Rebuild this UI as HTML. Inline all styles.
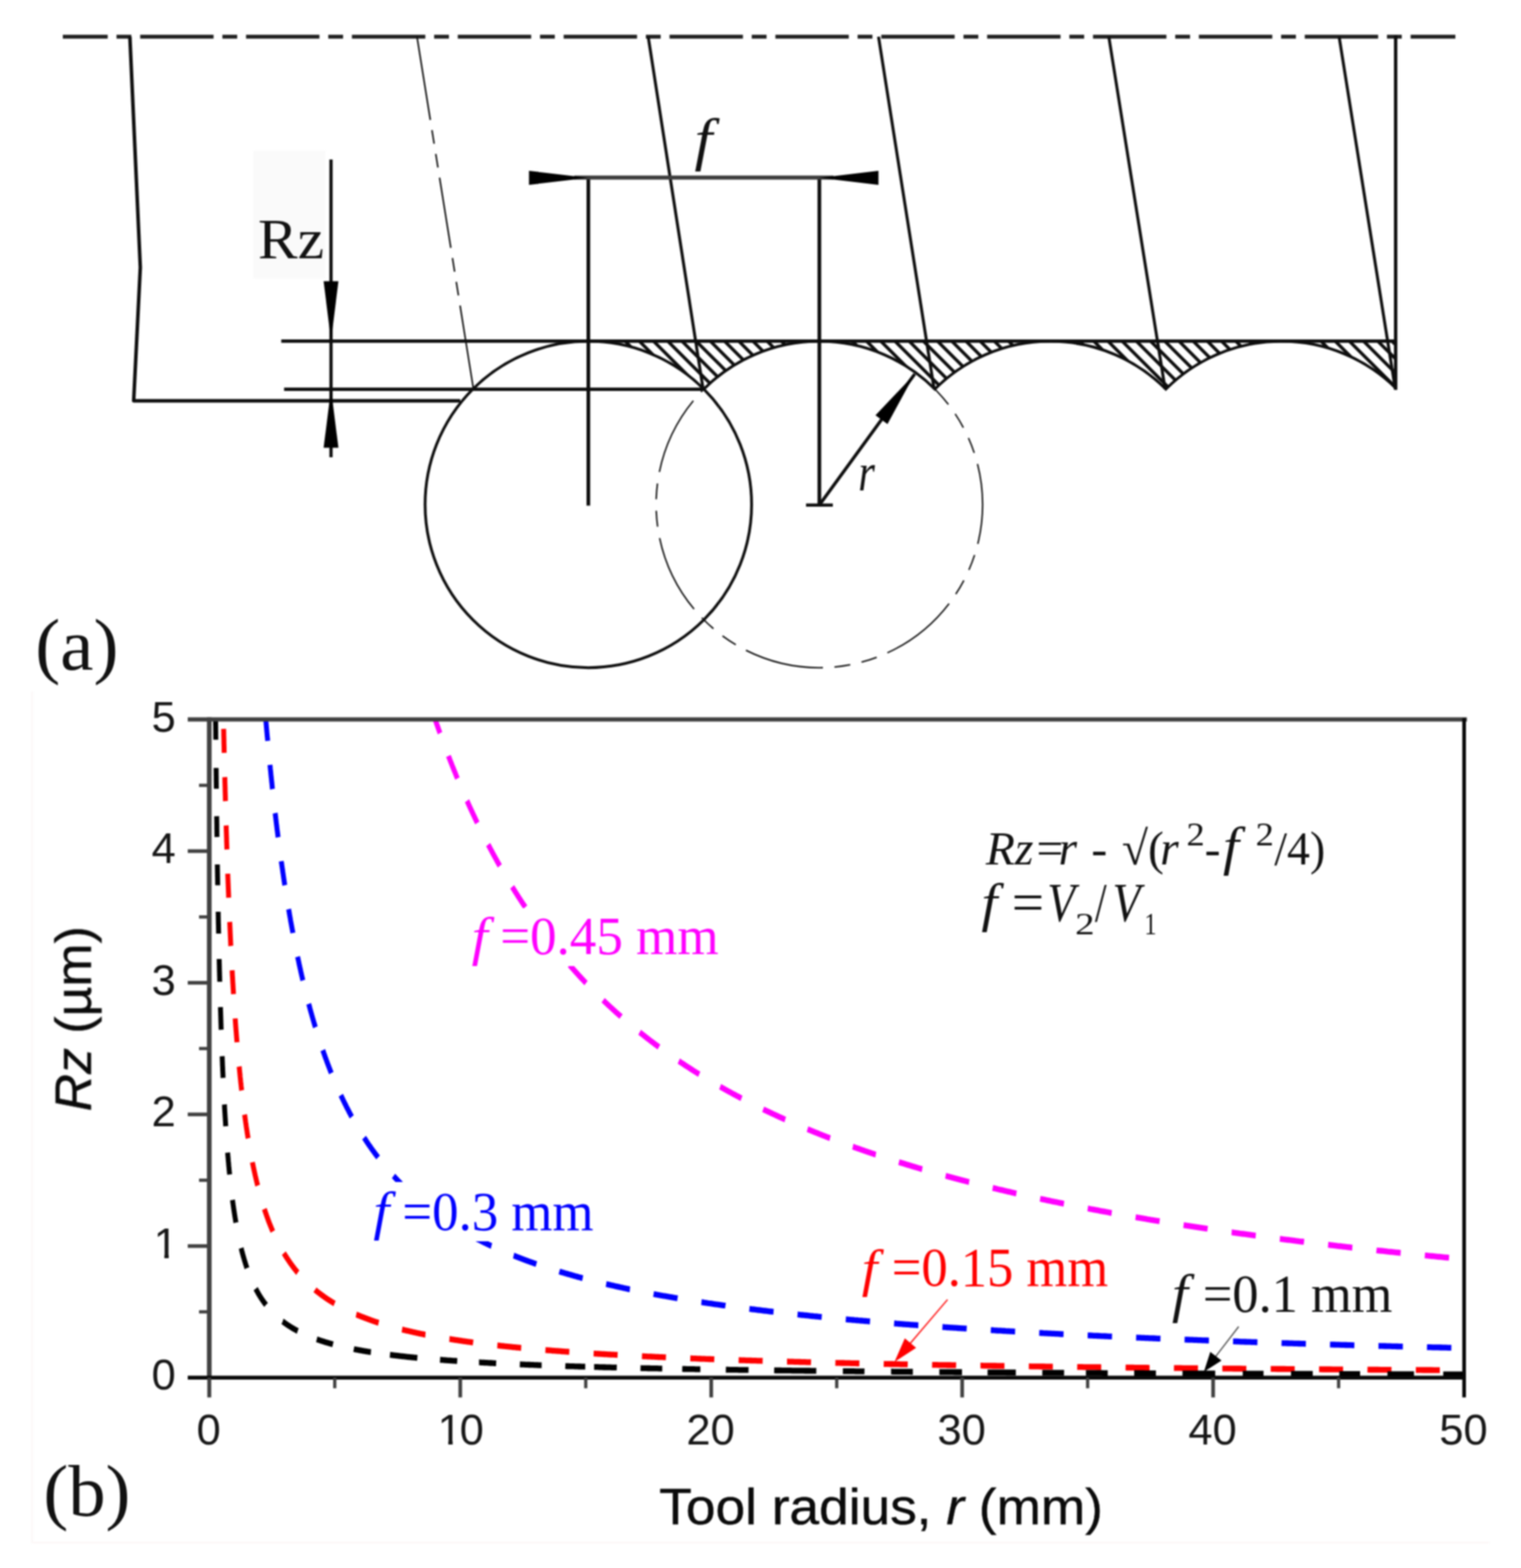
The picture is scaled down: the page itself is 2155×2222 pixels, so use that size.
<!DOCTYPE html>
<html lang="en"><head><meta charset="utf-8"><title>Surface roughness Rz versus tool radius</title>
<style>
html,body{margin:0;padding:0;background:#fff;}
body{width:2155px;height:2222px;overflow:hidden;font-family:"Liberation Sans",sans-serif;}
svg{display:block;}
text{white-space:pre;}
</style></head><body>
<svg width="2155" height="2222" viewBox="0 0 2155 2222">
<rect width="2155" height="2222" fill="#fff"/>
<g style="filter:blur(1.0px)">
<path d="M45.5,980 V2186 H2110.5" fill="none" stroke="#fcf6f6" stroke-width="2"/>
<defs><clipPath id="pc"><rect x="296.5" y="1019.6" width="1780.9" height="935.7"/></clipPath></defs>
<g fill="none" clip-path="url(#pc)">
<path transform="scale(0.84,1)" d="M712.5,963.6 L712.9,964.8 L713.4,966.0 L713.8,967.1 L714.2,968.3 L714.6,969.5 L715.1,970.6 L715.5,971.8 L715.9,972.9 L716.3,974.1 L716.8,975.3 L717.2,976.4 L717.6,977.6 L718.1,978.7 L718.5,979.9 L718.9,981.0 L719.4,982.2 L719.8,983.3 L720.2,984.5 L720.7,985.6 L721.1,986.7 L721.5,987.9 L722.0,989.0 L722.4,990.2 L722.8,991.3 L723.3,992.4 L723.7,993.6 L724.2,994.7 L724.6,995.8 L725.0,997.0 L725.5,998.1 L725.9,999.2 L726.4,1000.4 L726.8,1001.5 L727.2,1002.6 L727.7,1003.7 L728.1,1004.8 L728.6,1006.0 L729.0,1007.1 L729.5,1008.2 L729.9,1009.3 L730.4,1010.4 L730.8,1011.5 L731.2,1012.7 L731.7,1013.8 L732.1,1014.9 L732.6,1016.0 L733.0,1017.1 L733.5,1018.2 L733.9,1019.3 L734.4,1020.4 L734.8,1021.5 L735.3,1022.6 L735.7,1023.7 L736.2,1024.8 L736.6,1025.9 L737.1,1027.0 L737.6,1028.1 L738.0,1029.2 L738.5,1030.3 L738.9,1031.4 L739.4,1032.4 L739.8,1033.5 L740.3,1034.6 L740.8,1035.7 L741.2,1036.8 L741.7,1037.9 L742.1,1038.9 L742.6,1040.0 L743.0,1041.1 L743.5,1042.2 L744.0,1043.3 L744.4,1044.3 L744.9,1045.4 L745.4,1046.5 L745.8,1047.5 L746.3,1048.6 L746.8,1049.7 L747.2,1050.7 L747.7,1051.8 L748.2,1052.9 L748.6,1053.9 L749.1,1055.0 L749.6,1056.1 L750.0,1057.1 L750.5,1058.2 L751.0,1059.2 L751.4,1060.3 L751.9,1061.3 L752.4,1062.4 L752.9,1063.5 L753.3,1064.5 L753.8,1065.6 L754.3,1066.6 L754.7,1067.6 L755.2,1068.7 L755.7,1069.7 L756.2,1070.8 L756.6,1071.8 L757.1,1072.9 L757.6,1073.9 L758.1,1074.9 L758.6,1076.0 L759.0,1077.0 L759.5,1078.0 L760.0,1079.1 L760.5,1080.1 L761.0,1081.1 L761.4,1082.2 L761.9,1083.2 L762.4,1084.2 L762.9,1085.3 L763.4,1086.3 L763.9,1087.3 L764.4,1088.3 L764.8,1089.3 L765.3,1090.4 L765.8,1091.4 L766.3,1092.4 L766.8,1093.4 L767.3,1094.4 L767.8,1095.4 L768.3,1096.5 L768.8,1097.5 L769.2,1098.5 L769.7,1099.5 L770.2,1100.5 L770.7,1101.5 L771.2,1102.5 L771.7,1103.5 L772.2,1104.5 L772.7,1105.5 L773.2,1106.5 L773.7,1107.5 L774.2,1108.5 L774.7,1109.5 L775.2,1110.5 L775.7,1111.5 L776.2,1112.5 L776.7,1113.5 L777.2,1114.5 L777.7,1115.5 L778.2,1116.5 L778.7,1117.4 L779.2,1118.4 L779.7,1119.4 L780.2,1120.4 L780.7,1121.4 L781.2,1122.4 L781.7,1123.3 L782.2,1124.3 L782.7,1125.3 L783.3,1126.3 L783.8,1127.3 L784.3,1128.2 L784.8,1129.2 L785.3,1130.2 L785.8,1131.1 L786.3,1132.1 L786.8,1133.1 L787.3,1134.1 L787.9,1135.0 L788.4,1136.0 L788.9,1137.0 L789.4,1137.9 L789.9,1138.9 L790.4,1139.8 L790.9,1140.8 L791.5,1141.8 L792.0,1142.7 L792.5,1143.7 L793.0,1144.6 L793.5,1145.6 L794.1,1146.5 L794.6,1147.5 L795.1,1148.4 L795.6,1149.4 L796.2,1150.3 L796.7,1151.3 L797.2,1152.2 L797.7,1153.2 L798.3,1154.1 L798.8,1155.1 L799.3,1156.0 L799.8,1156.9 L800.4,1157.9 L800.9,1158.8 L801.4,1159.8 L802.0,1160.7 L802.5,1161.6 L803.0,1162.6 L803.5,1163.5 L804.1,1164.4 L804.6,1165.4 L805.1,1166.3 L805.7,1167.2 L806.2,1168.2 L806.8,1169.1 L807.3,1170.0 L807.8,1170.9 L808.4,1171.9 L808.9,1172.8 L809.4,1173.7 L810.0,1174.6 L810.5,1175.5 L811.1,1176.5 L811.6,1177.4 L812.1,1178.3 L812.7,1179.2 L813.2,1180.1 L813.8,1181.0 L814.3,1181.9 L814.9,1182.8 L815.4,1183.8 L816.0,1184.7 L816.5,1185.6 L817.1,1186.5 L817.6,1187.4 L818.2,1188.3 L818.7,1189.2 L819.3,1190.1 L819.8,1191.0 L820.4,1191.9 L820.9,1192.8 L821.5,1193.7 L822.0,1194.6 L822.6,1195.5 L823.1,1196.4 L823.7,1197.3 L824.2,1198.2 L824.8,1199.0 L825.4,1199.9 L825.9,1200.8 L826.5,1201.7 L827.0,1202.6 L827.6,1203.5 L828.2,1204.4 L828.7,1205.3 L829.3,1206.1 L829.8,1207.0 L830.4,1207.9 L831.0,1208.8 L831.5,1209.7 L832.1,1210.5 L832.7,1211.4 L833.2,1212.3 L833.8,1213.2 L834.4,1214.0 L834.9,1214.9 L835.5,1215.8 L836.1,1216.7 L836.7,1217.5 L837.2,1218.4 L837.8,1219.3 L838.4,1220.1 L838.9,1221.0 L839.5,1221.9 L840.1,1222.7 L840.7,1223.6 L841.3,1224.4 L841.8,1225.3 L842.4,1226.2 L843.0,1227.0 L843.6,1227.9 L844.1,1228.7 L844.7,1229.6 L845.3,1230.4 L845.9,1231.3 L846.5,1232.1 L847.1,1233.0 L847.6,1233.8 L848.2,1234.7 L848.8,1235.5 L849.4,1236.4 L850.0,1237.2 L850.6,1238.1 L851.2,1238.9 L851.8,1239.8 L852.3,1240.6 L852.9,1241.4 L853.5,1242.3 L854.1,1243.1 L854.7,1244.0 L855.3,1244.8 L855.9,1245.6 L856.5,1246.5 L857.1,1247.3 L857.7,1248.1 L858.3,1249.0 L858.9,1249.8 L859.5,1250.6 L860.1,1251.5 L860.7,1252.3 L861.3,1253.1 L861.9,1253.9 L862.5,1254.8 L863.1,1255.6 L863.7,1256.4 L864.3,1257.2 L864.9,1258.1 L865.5,1258.9 L866.1,1259.7 L866.7,1260.5 L867.3,1261.3 L867.9,1262.1 L868.5,1263.0 L869.1,1263.8 L869.8,1264.6 L870.4,1265.4 L871.0,1266.2 L871.6,1267.0 L872.2,1267.8 L872.8,1268.6 L873.4,1269.5 L874.0,1270.3 L874.7,1271.1 L875.3,1271.9 L875.9,1272.7 L876.5,1273.5 L877.1,1274.3 L877.8,1275.1 L878.4,1275.9 L879.0,1276.7 L879.6,1277.5 L880.2,1278.3 L880.9,1279.1 L881.5,1279.9 L882.1,1280.7 L882.7,1281.5 L883.4,1282.2 L884.0,1283.0 L884.6,1283.8 L885.2,1284.6 L885.9,1285.4 L886.5,1286.2 L887.1,1287.0 L887.8,1287.8 L888.4,1288.6 L889.0,1289.3 L889.7,1290.1 L890.3,1290.9 L890.9,1291.7 L891.6,1292.5 L892.2,1293.2 L892.9,1294.0 L893.5,1294.8 L894.1,1295.6 L894.8,1296.4 L895.4,1297.1 L896.1,1297.9 L896.7,1298.7 L897.3,1299.4 L898.0,1300.2 L898.6,1301.0 L899.3,1301.8 L899.9,1302.5 L900.6,1303.3 L901.2,1304.1 L901.9,1304.8 L902.5,1305.6 L903.2,1306.4 L903.8,1307.1 L904.5,1307.9 L905.1,1308.6 L905.8,1309.4 L906.4,1310.2 L907.1,1310.9 L907.7,1311.7 L908.4,1312.4 L909.0,1313.2 L909.7,1313.9 L910.4,1314.7 L911.0,1315.5 L911.7,1316.2 L912.3,1317.0 L913.0,1317.7 L913.7,1318.5 L914.3,1319.2 L915.0,1320.0 L915.7,1320.7 L916.3,1321.4 L917.0,1322.2 L917.6,1322.9 L918.3,1323.7 L919.0,1324.4 L919.7,1325.2 L920.3,1325.9 L921.0,1326.6 L921.7,1327.4 L922.3,1328.1 L923.0,1328.9 L923.7,1329.6 L924.4,1330.3 L925.0,1331.1 L925.7,1331.8 L926.4,1332.5 L927.1,1333.3 L927.7,1334.0 L928.4,1334.7 L929.1,1335.5 L929.8,1336.2 L930.5,1336.9 L931.2,1337.6 L931.8,1338.4 L932.5,1339.1 L933.2,1339.8 L933.9,1340.5 L934.6,1341.3 L935.3,1342.0 L936.0,1342.7 L936.6,1343.4 L937.3,1344.1 L938.0,1344.9 L938.7,1345.6 L939.4,1346.3 L940.1,1347.0 L940.8,1347.7 L941.5,1348.4 L942.2,1349.2 L942.9,1349.9 L943.6,1350.6 L944.3,1351.3 L945.0,1352.0 L945.7,1352.7 L946.4,1353.4 L947.1,1354.1 L947.8,1354.8 L948.5,1355.5 L949.2,1356.2 L949.9,1357.0 L950.6,1357.7 L951.3,1358.4 L952.0,1359.1 L952.7,1359.8 L953.4,1360.5 L954.2,1361.2 L954.9,1361.9 L955.6,1362.6 L956.3,1363.3 L957.0,1363.9 L957.7,1364.6 L958.4,1365.3 L959.1,1366.0 L959.9,1366.7 L960.6,1367.4 L961.3,1368.1 L962.0,1368.8 L962.7,1369.5 L963.5,1370.2 L964.2,1370.9 L964.9,1371.5 L965.6,1372.2 L966.4,1372.9 L967.1,1373.6 L967.8,1374.3 L968.5,1375.0 L969.3,1375.7 L970.0,1376.3 L970.7,1377.0 L971.4,1377.7 L972.2,1378.4 L972.9,1379.1 L973.6,1379.7 L974.4,1380.4 L975.1,1381.1 L975.8,1381.8 L976.6,1382.4 L977.3,1383.1 L978.1,1383.8 L978.8,1384.4 L979.5,1385.1 L980.3,1385.8 L981.0,1386.5 L981.8,1387.1 L982.5,1387.8 L983.3,1388.5 L984.0,1389.1 L984.7,1389.8 L985.5,1390.5 L986.2,1391.1 L987.0,1391.8 L987.7,1392.4 L988.5,1393.1 L989.2,1393.8 L990.0,1394.4 L990.7,1395.1 L991.5,1395.7 L992.3,1396.4 L993.0,1397.1 L993.8,1397.7 L994.5,1398.4 L995.3,1399.0 L996.0,1399.7 L996.8,1400.3 L997.6,1401.0 L998.3,1401.6 L999.1,1402.3 L999.9,1402.9 L1000.6,1403.6 L1001.4,1404.2 L1002.2,1404.9 L1002.9,1405.5 L1003.7,1406.2 L1004.5,1406.8 L1005.2,1407.5 L1006.0,1408.1 L1006.8,1408.7 L1007.5,1409.4 L1008.3,1410.0 L1009.1,1410.7 L1009.9,1411.3 L1010.6,1412.0 L1011.4,1412.6 L1012.2,1413.2 L1013.0,1413.9 L1013.8,1414.5 L1014.5,1415.1 L1015.3,1415.8 L1016.1,1416.4 L1016.9,1417.0 L1017.7,1417.7 L1018.5,1418.3 L1019.3,1418.9 L1020.0,1419.6 L1020.8,1420.2 L1021.6,1420.8 L1022.4,1421.4 L1023.2,1422.1 L1024.0,1422.7 L1024.8,1423.3 L1025.6,1424.0 L1026.4,1424.6 L1027.2,1425.2 L1028.0,1425.8 L1028.8,1426.4 L1029.6,1427.1 L1030.4,1427.7 L1031.2,1428.3 L1032.0,1428.9 L1032.8,1429.5 L1033.6,1430.2 L1034.4,1430.8 L1035.2,1431.4 L1036.0,1432.0 L1036.8,1432.6 L1037.6,1433.2 L1038.4,1433.9 L1039.2,1434.5 L1040.0,1435.1 L1040.9,1435.7 L1041.7,1436.3 L1042.5,1436.9 L1043.3,1437.5 L1044.1,1438.1 L1044.9,1438.7 L1045.8,1439.3 L1046.6,1439.9 L1047.4,1440.5 L1048.2,1441.2 L1049.0,1441.8 L1049.9,1442.4 L1050.7,1443.0 L1051.5,1443.6 L1052.3,1444.2 L1053.2,1444.8 L1054.0,1445.4 L1054.8,1446.0 L1055.6,1446.6 L1056.5,1447.2 L1057.3,1447.8 L1058.1,1448.4 L1059.0,1448.9 L1059.8,1449.5 L1060.6,1450.1 L1061.5,1450.7 L1062.3,1451.3 L1063.2,1451.9 L1064.0,1452.5 L1064.8,1453.1 L1065.7,1453.7 L1066.5,1454.3 L1067.4,1454.9 L1068.2,1455.4 L1069.1,1456.0 L1069.9,1456.6 L1070.8,1457.2 L1071.6,1457.8 L1072.5,1458.4 L1073.3,1459.0 L1074.2,1459.5 L1075.0,1460.1 L1075.9,1460.7 L1076.7,1461.3 L1077.6,1461.9 L1078.4,1462.4 L1079.3,1463.0 L1080.1,1463.6 L1081.0,1464.2 L1081.9,1464.8 L1082.7,1465.3 L1083.6,1465.9 L1084.5,1466.5 L1085.3,1467.1 L1086.2,1467.6 L1087.1,1468.2 L1087.9,1468.8 L1088.8,1469.3 L1089.7,1469.9 L1090.5,1470.5 L1091.4,1471.1 L1092.3,1471.6 L1093.2,1472.2 L1094.0,1472.8 L1094.9,1473.3 L1095.8,1473.9 L1096.7,1474.5 L1097.5,1475.0 L1098.4,1475.6 L1099.3,1476.1 L1100.2,1476.7 L1101.1,1477.3 L1102.0,1477.8 L1102.8,1478.4 L1103.7,1479.0 L1104.6,1479.5 L1105.5,1480.1 L1106.4,1480.6 L1107.3,1481.2 L1108.2,1481.7 L1109.1,1482.3 L1110.0,1482.9 L1110.9,1483.4 L1111.8,1484.0 L1112.6,1484.5 L1113.5,1485.1 L1114.4,1485.6 L1115.3,1486.2 L1116.2,1486.7 L1117.2,1487.3 L1118.1,1487.8 L1119.0,1488.4 L1119.9,1488.9 L1120.8,1489.5 L1121.7,1490.0 L1122.6,1490.6 L1123.5,1491.1 L1124.4,1491.6 L1125.3,1492.2 L1126.2,1492.7 L1127.2,1493.3 L1128.1,1493.8 L1129.0,1494.4 L1129.9,1494.9 L1130.8,1495.4 L1131.7,1496.0 L1132.7,1496.5 L1133.6,1497.1 L1134.5,1497.6 L1135.4,1498.1 L1136.4,1498.7 L1137.3,1499.2 L1138.2,1499.7 L1139.1,1500.3 L1140.1,1500.8 L1141.0,1501.3 L1141.9,1501.9 L1142.9,1502.4 L1143.8,1502.9 L1144.7,1503.5 L1145.7,1504.0 L1146.6,1504.5 L1147.5,1505.1 L1148.5,1505.6 L1149.4,1506.1 L1150.4,1506.6 L1151.3,1507.2 L1152.3,1507.7 L1153.2,1508.2 L1154.1,1508.7 L1155.1,1509.3 L1156.0,1509.8 L1157.0,1510.3 L1157.9,1510.8 L1158.9,1511.4 L1159.8,1511.9 L1160.8,1512.4 L1161.8,1512.9 L1162.7,1513.4 L1163.7,1514.0 L1164.6,1514.5 L1165.6,1515.0 L1166.5,1515.5 L1167.5,1516.0 L1168.5,1516.5 L1169.4,1517.1 L1170.4,1517.6 L1171.4,1518.1 L1172.3,1518.6 L1173.3,1519.1 L1174.3,1519.6 L1175.2,1520.1 L1176.2,1520.6 L1177.2,1521.2 L1178.2,1521.7 L1179.1,1522.2 L1180.1,1522.7 L1181.1,1523.2 L1182.1,1523.7 L1183.1,1524.2 L1184.0,1524.7 L1185.0,1525.2 L1186.0,1525.7 L1187.0,1526.2 L1188.0,1526.7 L1189.0,1527.2 L1190.0,1527.7 L1190.9,1528.2 L1191.9,1528.7 L1192.9,1529.2 L1193.9,1529.7 L1194.9,1530.2 L1195.9,1530.7 L1196.9,1531.2 L1197.9,1531.7 L1198.9,1532.2 L1199.9,1532.7 L1200.9,1533.2 L1201.9,1533.7 L1202.9,1534.2 L1203.9,1534.7 L1204.9,1535.2 L1205.9,1535.7 L1206.9,1536.2 L1208.0,1536.7 L1209.0,1537.2 L1210.0,1537.6 L1211.0,1538.1 L1212.0,1538.6 L1213.0,1539.1 L1214.0,1539.6 L1215.1,1540.1 L1216.1,1540.6 L1217.1,1541.1 L1218.1,1541.5 L1219.1,1542.0 L1220.2,1542.5 L1221.2,1543.0 L1222.2,1543.5 L1223.2,1544.0 L1224.3,1544.5 L1225.3,1544.9 L1226.3,1545.4 L1227.4,1545.9 L1228.4,1546.4 L1229.4,1546.9 L1230.5,1547.3 L1231.5,1547.8 L1232.5,1548.3 L1233.6,1548.8 L1234.6,1549.2 L1235.7,1549.7 L1236.7,1550.2 L1237.8,1550.7 L1238.8,1551.1 L1239.9,1551.6 L1240.9,1552.1 L1242.0,1552.6 L1243.0,1553.0 L1244.1,1553.5 L1245.1,1554.0 L1246.2,1554.4 L1247.2,1554.9 L1248.3,1555.4 L1249.3,1555.9 L1250.4,1556.3 L1251.5,1556.8 L1252.5,1557.3 L1253.6,1557.7 L1254.7,1558.2 L1255.7,1558.7 L1256.8,1559.1 L1257.9,1559.6 L1258.9,1560.1 L1260.0,1560.5 L1261.1,1561.0 L1262.1,1561.4 L1263.2,1561.9 L1264.3,1562.4 L1265.4,1562.8 L1266.5,1563.3 L1267.5,1563.7 L1268.6,1564.2 L1269.7,1564.7 L1270.8,1565.1 L1271.9,1565.6 L1273.0,1566.0 L1274.0,1566.5 L1275.1,1566.9 L1276.2,1567.4 L1277.3,1567.9 L1278.4,1568.3 L1279.5,1568.8 L1280.6,1569.2 L1281.7,1569.7 L1282.8,1570.1 L1283.9,1570.6 L1285.0,1571.0 L1286.1,1571.5 L1287.2,1571.9 L1288.3,1572.4 L1289.4,1572.8 L1290.5,1573.3 L1291.6,1573.7 L1292.7,1574.2 L1293.8,1574.6 L1295.0,1575.1 L1296.1,1575.5 L1297.2,1575.9 L1298.3,1576.4 L1299.4,1576.8 L1300.5,1577.3 L1301.7,1577.7 L1302.8,1578.2 L1303.9,1578.6 L1305.0,1579.0 L1306.2,1579.5 L1307.3,1579.9 L1308.4,1580.4 L1309.5,1580.8 L1310.7,1581.2 L1311.8,1581.7 L1312.9,1582.1 L1314.1,1582.6 L1315.2,1583.0 L1316.3,1583.4 L1317.5,1583.9 L1318.6,1584.3 L1319.8,1584.7 L1320.9,1585.2 L1322.1,1585.6 L1323.2,1586.0 L1324.3,1586.5 L1325.5,1586.9 L1326.6,1587.3 L1327.8,1587.8 L1329.0,1588.2 L1330.1,1588.6 L1331.3,1589.1 L1332.4,1589.5 L1333.6,1589.9 L1334.7,1590.3 L1335.9,1590.8 L1337.1,1591.2 L1338.2,1591.6 L1339.4,1592.1 L1340.6,1592.5 L1341.7,1592.9 L1342.9,1593.3 L1344.1,1593.8 L1345.2,1594.2 L1346.4,1594.6 L1347.6,1595.0 L1348.8,1595.4 L1349.9,1595.9 L1351.1,1596.3 L1352.3,1596.7 L1353.5,1597.1 L1354.7,1597.5 L1355.8,1598.0 L1357.0,1598.4 L1358.2,1598.8 L1359.4,1599.2 L1360.6,1599.6 L1361.8,1600.1 L1363.0,1600.5 L1364.2,1600.9 L1365.4,1601.3 L1366.6,1601.7 L1367.8,1602.1 L1369.0,1602.5 L1370.2,1603.0 L1371.4,1603.4 L1372.6,1603.8 L1373.8,1604.2 L1375.0,1604.6 L1376.2,1605.0 L1377.4,1605.4 L1378.6,1605.8 L1379.8,1606.2 L1381.0,1606.7 L1382.3,1607.1 L1383.5,1607.5 L1384.7,1607.9 L1385.9,1608.3 L1387.1,1608.7 L1388.4,1609.1 L1389.6,1609.5 L1390.8,1609.9 L1392.0,1610.3 L1393.3,1610.7 L1394.5,1611.1 L1395.7,1611.5 L1397.0,1611.9 L1398.2,1612.3 L1399.4,1612.7 L1400.7,1613.1 L1401.9,1613.5 L1403.2,1613.9 L1404.4,1614.3 L1405.6,1614.7 L1406.9,1615.1 L1408.1,1615.5 L1409.4,1615.9 L1410.6,1616.3 L1411.9,1616.7 L1413.1,1617.1 L1414.4,1617.5 L1415.6,1617.9 L1416.9,1618.3 L1418.2,1618.7 L1419.4,1619.1 L1420.7,1619.5 L1421.9,1619.9 L1423.2,1620.3 L1424.5,1620.7 L1425.7,1621.0 L1427.0,1621.4 L1428.3,1621.8 L1429.5,1622.2 L1430.8,1622.6 L1432.1,1623.0 L1433.4,1623.4 L1434.6,1623.8 L1435.9,1624.2 L1437.2,1624.6 L1438.5,1624.9 L1439.8,1625.3 L1441.1,1625.7 L1442.3,1626.1 L1443.6,1626.5 L1444.9,1626.9 L1446.2,1627.3 L1447.5,1627.6 L1448.8,1628.0 L1450.1,1628.4 L1451.4,1628.8 L1452.7,1629.2 L1454.0,1629.6 L1455.3,1629.9 L1456.6,1630.3 L1457.9,1630.7 L1459.2,1631.1 L1460.5,1631.5 L1461.8,1631.8 L1463.1,1632.2 L1464.4,1632.6 L1465.8,1633.0 L1467.1,1633.3 L1468.4,1633.7 L1469.7,1634.1 L1471.0,1634.5 L1472.4,1634.8 L1473.7,1635.2 L1475.0,1635.6 L1476.3,1636.0 L1477.7,1636.3 L1479.0,1636.7 L1480.3,1637.1 L1481.7,1637.5 L1483.0,1637.8 L1484.3,1638.2 L1485.7,1638.6 L1487.0,1638.9 L1488.3,1639.3 L1489.7,1639.7 L1491.0,1640.1 L1492.4,1640.4 L1493.7,1640.8 L1495.1,1641.2 L1496.4,1641.5 L1497.8,1641.9 L1499.1,1642.3 L1500.5,1642.6 L1501.8,1643.0 L1503.2,1643.4 L1504.6,1643.7 L1505.9,1644.1 L1507.3,1644.5 L1508.7,1644.8 L1510.0,1645.2 L1511.4,1645.5 L1512.8,1645.9 L1514.1,1646.3 L1515.5,1646.6 L1516.9,1647.0 L1518.3,1647.4 L1519.6,1647.7 L1521.0,1648.1 L1522.4,1648.4 L1523.8,1648.8 L1525.2,1649.1 L1526.5,1649.5 L1527.9,1649.9 L1529.3,1650.2 L1530.7,1650.6 L1532.1,1650.9 L1533.5,1651.3 L1534.9,1651.6 L1536.3,1652.0 L1537.7,1652.4 L1539.1,1652.7 L1540.5,1653.1 L1541.9,1653.4 L1543.3,1653.8 L1544.7,1654.1 L1546.1,1654.5 L1547.5,1654.8 L1548.9,1655.2 L1550.4,1655.5 L1551.8,1655.9 L1553.2,1656.2 L1554.6,1656.6 L1556.0,1656.9 L1557.5,1657.3 L1558.9,1657.6 L1560.3,1658.0 L1561.7,1658.3 L1563.2,1658.7 L1564.6,1659.0 L1566.0,1659.4 L1567.5,1659.7 L1568.9,1660.1 L1570.3,1660.4 L1571.8,1660.7 L1573.2,1661.1 L1574.7,1661.4 L1576.1,1661.8 L1577.6,1662.1 L1579.0,1662.5 L1580.5,1662.8 L1581.9,1663.1 L1583.4,1663.5 L1584.8,1663.8 L1586.3,1664.2 L1587.7,1664.5 L1589.2,1664.9 L1590.6,1665.2 L1592.1,1665.5 L1593.6,1665.9 L1595.0,1666.2 L1596.5,1666.5 L1598.0,1666.9 L1599.5,1667.2 L1600.9,1667.6 L1602.4,1667.9 L1603.9,1668.2 L1605.4,1668.6 L1606.8,1668.9 L1608.3,1669.2 L1609.8,1669.6 L1611.3,1669.9 L1612.8,1670.2 L1614.3,1670.6 L1615.8,1670.9 L1617.3,1671.2 L1618.8,1671.6 L1620.3,1671.9 L1621.7,1672.2 L1623.3,1672.6 L1624.8,1672.9 L1626.3,1673.2 L1627.8,1673.5 L1629.3,1673.9 L1630.8,1674.2 L1632.3,1674.5 L1633.8,1674.9 L1635.3,1675.2 L1636.8,1675.5 L1638.4,1675.8 L1639.9,1676.2 L1641.4,1676.5 L1642.9,1676.8 L1644.4,1677.1 L1646.0,1677.5 L1647.5,1677.8 L1649.0,1678.1 L1650.6,1678.4 L1652.1,1678.8 L1653.6,1679.1 L1655.2,1679.4 L1656.7,1679.7 L1658.3,1680.1 L1659.8,1680.4 L1661.3,1680.7 L1662.9,1681.0 L1664.4,1681.3 L1666.0,1681.7 L1667.5,1682.0 L1669.1,1682.3 L1670.7,1682.6 L1672.2,1682.9 L1673.8,1683.3 L1675.3,1683.6 L1676.9,1683.9 L1678.5,1684.2 L1680.0,1684.5 L1681.6,1684.8 L1683.2,1685.2 L1684.7,1685.5 L1686.3,1685.8 L1687.9,1686.1 L1689.5,1686.4 L1691.1,1686.7 L1692.6,1687.0 L1694.2,1687.4 L1695.8,1687.7 L1697.4,1688.0 L1699.0,1688.3 L1700.6,1688.6 L1702.2,1688.9 L1703.8,1689.2 L1705.4,1689.5 L1707.0,1689.9 L1708.6,1690.2 L1710.2,1690.5 L1711.8,1690.8 L1713.4,1691.1 L1715.0,1691.4 L1716.6,1691.7 L1718.2,1692.0 L1719.8,1692.3 L1721.4,1692.6 L1723.1,1692.9 L1724.7,1693.2 L1726.3,1693.6 L1727.9,1693.9 L1729.6,1694.2 L1731.2,1694.5 L1732.8,1694.8 L1734.4,1695.1 L1736.1,1695.4 L1737.7,1695.7 L1739.3,1696.0 L1741.0,1696.3 L1742.6,1696.6 L1744.3,1696.9 L1745.9,1697.2 L1747.6,1697.5 L1749.2,1697.8 L1750.9,1698.1 L1752.5,1698.4 L1754.2,1698.7 L1755.8,1699.0 L1757.5,1699.3 L1759.1,1699.6 L1760.8,1699.9 L1762.5,1700.2 L1764.1,1700.5 L1765.8,1700.8 L1767.5,1701.1 L1769.2,1701.4 L1770.8,1701.7 L1772.5,1702.0 L1774.2,1702.3 L1775.9,1702.6 L1777.5,1702.9 L1779.2,1703.2 L1780.9,1703.4 L1782.6,1703.7 L1784.3,1704.0 L1786.0,1704.3 L1787.7,1704.6 L1789.4,1704.9 L1791.1,1705.2 L1792.8,1705.5 L1794.5,1705.8 L1796.2,1706.1 L1797.9,1706.4 L1799.6,1706.7 L1801.3,1707.0 L1803.0,1707.2 L1804.7,1707.5 L1806.5,1707.8 L1808.2,1708.1 L1809.9,1708.4 L1811.6,1708.7 L1813.3,1709.0 L1815.1,1709.3 L1816.8,1709.5 L1818.5,1709.8 L1820.3,1710.1 L1822.0,1710.4 L1823.7,1710.7 L1825.5,1711.0 L1827.2,1711.3 L1829.0,1711.5 L1830.7,1711.8 L1832.5,1712.1 L1834.2,1712.4 L1836.0,1712.7 L1837.7,1713.0 L1839.5,1713.3 L1841.2,1713.5 L1843.0,1713.8 L1844.7,1714.1 L1846.5,1714.4 L1848.3,1714.7 L1850.0,1714.9 L1851.8,1715.2 L1853.6,1715.5 L1855.4,1715.8 L1857.1,1716.1 L1858.9,1716.3 L1860.7,1716.6 L1862.5,1716.9 L1864.3,1717.2 L1866.1,1717.5 L1867.8,1717.7 L1869.6,1718.0 L1871.4,1718.3 L1873.2,1718.6 L1875.0,1718.8 L1876.8,1719.1 L1878.6,1719.4 L1880.4,1719.7 L1882.2,1719.9 L1884.0,1720.2 L1885.9,1720.5 L1887.7,1720.8 L1889.5,1721.0 L1891.3,1721.3 L1893.1,1721.6 L1894.9,1721.8 L1896.8,1722.1 L1898.6,1722.4 L1900.4,1722.7 L1902.2,1722.9 L1904.1,1723.2 L1905.9,1723.5 L1907.7,1723.7 L1909.6,1724.0 L1911.4,1724.3 L1913.3,1724.6 L1915.1,1724.8 L1917.0,1725.1 L1918.8,1725.4 L1920.7,1725.6 L1922.5,1725.9 L1924.4,1726.2 L1926.2,1726.4 L1928.1,1726.7 L1930.0,1727.0 L1931.8,1727.2 L1933.7,1727.5 L1935.6,1727.8 L1937.4,1728.0 L1939.3,1728.3 L1941.2,1728.6 L1943.1,1728.8 L1944.9,1729.1 L1946.8,1729.4 L1948.7,1729.6 L1950.6,1729.9 L1952.5,1730.1 L1954.4,1730.4 L1956.3,1730.7 L1958.2,1730.9 L1960.1,1731.2 L1962.0,1731.4 L1963.9,1731.7 L1965.8,1732.0 L1967.7,1732.2 L1969.6,1732.5 L1971.5,1732.8 L1973.4,1733.0 L1975.3,1733.3 L1977.2,1733.5 L1979.2,1733.8 L1981.1,1734.0 L1983.0,1734.3 L1984.9,1734.6 L1986.9,1734.8 L1988.8,1735.1 L1990.7,1735.3 L1992.7,1735.6 L1994.6,1735.8 L1996.6,1736.1 L1998.5,1736.4 L2000.4,1736.6 L2002.4,1736.9 L2004.3,1737.1 L2006.3,1737.4 L2008.2,1737.6 L2010.2,1737.9 L2012.2,1738.1 L2014.1,1738.4 L2016.1,1738.6 L2018.1,1738.9 L2020.0,1739.1 L2022.0,1739.4 L2024.0,1739.6 L2025.9,1739.9 L2027.9,1740.1 L2029.9,1740.4 L2031.9,1740.6 L2033.9,1740.9 L2035.9,1741.1 L2037.9,1741.4 L2039.8,1741.6 L2041.8,1741.9 L2043.8,1742.1 L2045.8,1742.4 L2047.8,1742.6 L2049.8,1742.9 L2051.8,1743.1 L2053.9,1743.4 L2055.9,1743.6 L2057.9,1743.9 L2059.9,1744.1 L2061.9,1744.4 L2063.9,1744.6 L2066.0,1744.9 L2068.0,1745.1 L2070.0,1745.3 L2072.0,1745.6 L2074.1,1745.8 L2076.1,1746.1 L2078.2,1746.3 L2080.2,1746.6 L2082.2,1746.8 L2084.3,1747.1 L2086.3,1747.3 L2088.4,1747.5 L2090.4,1747.8 L2092.5,1748.0 L2094.5,1748.3 L2096.6,1748.5 L2098.7,1748.7 L2100.7,1749.0 L2102.8,1749.2 L2104.9,1749.5 L2106.9,1749.7 L2109.0,1749.9 L2111.1,1750.2 L2113.2,1750.4 L2115.2,1750.7 L2117.3,1750.9 L2119.4,1751.1 L2121.5,1751.4 L2123.6,1751.6 L2125.7,1751.8 L2127.8,1752.1 L2129.9,1752.3 L2132.0,1752.6 L2134.1,1752.8 L2136.2,1753.0 L2138.3,1753.3 L2140.4,1753.5 L2142.5,1753.7 L2144.6,1754.0 L2146.8,1754.2 L2148.9,1754.4 L2151.0,1754.7 L2153.1,1754.9 L2155.3,1755.1 L2157.4,1755.4 L2159.5,1755.6 L2161.7,1755.8 L2163.8,1756.1 L2165.9,1756.3 L2168.1,1756.5 L2170.2,1756.8 L2172.4,1757.0 L2174.5,1757.2 L2176.7,1757.5 L2178.8,1757.7 L2181.0,1757.9 L2183.2,1758.1 L2185.3,1758.4 L2187.5,1758.6 L2189.7,1758.8 L2191.8,1759.1 L2194.0,1759.3 L2196.2,1759.5 L2198.4,1759.7 L2200.6,1760.0 L2202.7,1760.2 L2204.9,1760.4 L2207.1,1760.7 L2209.3,1760.9 L2211.5,1761.1 L2213.7,1761.3 L2215.9,1761.6 L2218.1,1761.8 L2220.3,1762.0 L2222.5,1762.2 L2224.7,1762.5 L2226.9,1762.7 L2229.2,1762.9 L2231.4,1763.1 L2233.6,1763.4 L2235.8,1763.6 L2238.0,1763.8 L2240.3,1764.0 L2242.5,1764.2 L2244.7,1764.5 L2247.0,1764.7 L2249.2,1764.9 L2251.5,1765.1 L2253.7,1765.3 L2256.0,1765.6 L2258.2,1765.8 L2260.5,1766.0 L2262.7,1766.2 L2265.0,1766.5 L2267.2,1766.7 L2269.5,1766.9 L2271.8,1767.1 L2274.0,1767.3 L2276.3,1767.5 L2278.6,1767.8 L2280.9,1768.0 L2283.1,1768.2 L2285.4,1768.4 L2287.7,1768.6 L2290.0,1768.9 L2292.3,1769.1 L2294.6,1769.3 L2296.9,1769.5 L2299.2,1769.7 L2301.5,1769.9 L2303.8,1770.1 L2306.1,1770.4 L2308.4,1770.6 L2310.7,1770.8 L2313.0,1771.0 L2315.3,1771.2 L2317.7,1771.4 L2320.0,1771.6 L2322.3,1771.9 L2324.6,1772.1 L2327.0,1772.3 L2329.3,1772.5 L2331.6,1772.7 L2334.0,1772.9 L2336.3,1773.1 L2338.7,1773.3 L2341.0,1773.6 L2343.4,1773.8 L2345.7,1774.0 L2348.1,1774.2 L2350.4,1774.4 L2352.8,1774.6 L2355.2,1774.8 L2357.5,1775.0 L2359.9,1775.2 L2362.3,1775.5 L2364.7,1775.7 L2367.0,1775.9 L2369.4,1776.1 L2371.8,1776.3 L2374.2,1776.5 L2376.6,1776.7 L2379.0,1776.9 L2381.4,1777.1 L2383.8,1777.3 L2386.2,1777.5 L2388.6,1777.7 L2391.0,1777.9 L2393.4,1778.1 L2395.8,1778.4 L2398.2,1778.6 L2400.6,1778.8 L2403.1,1779.0 L2405.5,1779.2 L2407.9,1779.4 L2410.3,1779.6 L2412.8,1779.8 L2415.2,1780.0 L2417.6,1780.2 L2420.1,1780.4 L2422.5,1780.6 L2425.0,1780.8 L2427.4,1781.0 L2429.9,1781.2 L2432.3,1781.4 L2434.8,1781.6 L2437.3,1781.8 L2439.7,1782.0 L2442.2,1782.2 L2444.7,1782.4 L2447.1,1782.6 L2449.6,1782.8 L2452.1,1783.0 L2454.6,1783.2 L2457.1,1783.4 L2459.5,1783.6 L2462.0,1783.8 L2464.5,1784.0 L2467.0,1784.2 L2469.5,1784.4" stroke="#ff00ff" stroke-width="8.3" stroke-dasharray="10.6 35.1 35.3 35.3 35.5 35.5 35.8 35.8 36.1 36.2 36.5 36.7 37.1 37.3 37.6 37.8 38.2 38.4 38.8 38.9 39.3 39.4 39.7 39.7 40.0 40.0 40.2 40.2 40.4 40.4 40.6 40.5 40.7 40.6 40.8 40.7 40.8 40.7 40.9 40.8 40.9 40.8 40.9 40.8 41.0 40.9 41.0 40.9 41.0 40.9 41.0 40.9 41.0 5000.0"/>
<path transform="scale(0.84,1)" d="M442.9,963.6 L443.1,965.7 L443.3,967.8 L443.5,969.9 L443.7,971.9 L443.9,974.0 L444.1,976.1 L444.3,978.1 L444.5,980.2 L444.7,982.2 L444.9,984.3 L445.0,986.3 L445.2,988.4 L445.4,990.4 L445.6,992.4 L445.8,994.4 L446.0,996.5 L446.2,998.5 L446.4,1000.5 L446.6,1002.5 L446.8,1004.5 L447.0,1006.5 L447.2,1008.5 L447.4,1010.5 L447.6,1012.5 L447.8,1014.4 L448.0,1016.4 L448.2,1018.4 L448.4,1020.4 L448.6,1022.3 L448.8,1024.3 L449.0,1026.2 L449.2,1028.2 L449.4,1030.1 L449.6,1032.1 L449.8,1034.0 L450.0,1036.0 L450.2,1037.9 L450.4,1039.8 L450.6,1041.7 L450.8,1043.7 L451.1,1045.6 L451.3,1047.5 L451.5,1049.4 L451.7,1051.3 L451.9,1053.2 L452.1,1055.1 L452.3,1057.0 L452.5,1058.9 L452.7,1060.8 L452.9,1062.6 L453.1,1064.5 L453.4,1066.4 L453.6,1068.2 L453.8,1070.1 L454.0,1072.0 L454.2,1073.8 L454.4,1075.7 L454.6,1077.5 L454.8,1079.4 L455.1,1081.2 L455.3,1083.0 L455.5,1084.9 L455.7,1086.7 L455.9,1088.5 L456.1,1090.3 L456.4,1092.2 L456.6,1094.0 L456.8,1095.8 L457.0,1097.6 L457.2,1099.4 L457.4,1101.2 L457.7,1103.0 L457.9,1104.8 L458.1,1106.6 L458.3,1108.3 L458.6,1110.1 L458.8,1111.9 L459.0,1113.7 L459.2,1115.4 L459.4,1117.2 L459.7,1119.0 L459.9,1120.7 L460.1,1122.5 L460.3,1124.2 L460.6,1126.0 L460.8,1127.7 L461.0,1129.4 L461.3,1131.2 L461.5,1132.9 L461.7,1134.6 L461.9,1136.3 L462.2,1138.1 L462.4,1139.8 L462.6,1141.5 L462.9,1143.2 L463.1,1144.9 L463.3,1146.6 L463.6,1148.3 L463.8,1150.0 L464.0,1151.7 L464.3,1153.4 L464.5,1155.1 L464.7,1156.7 L465.0,1158.4 L465.2,1160.1 L465.4,1161.7 L465.7,1163.4 L465.9,1165.1 L466.1,1166.7 L466.4,1168.4 L466.6,1170.0 L466.9,1171.7 L467.1,1173.3 L467.3,1175.0 L467.6,1176.6 L467.8,1178.2 L468.1,1179.9 L468.3,1181.5 L468.6,1183.1 L468.8,1184.7 L469.0,1186.4 L469.3,1188.0 L469.5,1189.6 L469.8,1191.2 L470.0,1192.8 L470.3,1194.4 L470.5,1196.0 L470.8,1197.6 L471.0,1199.2 L471.3,1200.8 L471.5,1202.3 L471.8,1203.9 L472.0,1205.5 L472.3,1207.1 L472.5,1208.6 L472.8,1210.2 L473.0,1211.8 L473.3,1213.3 L473.5,1214.9 L473.8,1216.4 L474.0,1218.0 L474.3,1219.5 L474.5,1221.1 L474.8,1222.6 L475.1,1224.2 L475.3,1225.7 L475.6,1227.2 L475.8,1228.7 L476.1,1230.3 L476.4,1231.8 L476.6,1233.3 L476.9,1234.8 L477.1,1236.3 L477.4,1237.8 L477.7,1239.3 L477.9,1240.8 L478.2,1242.3 L478.4,1243.8 L478.7,1245.3 L479.0,1246.8 L479.2,1248.3 L479.5,1249.8 L479.8,1251.3 L480.0,1252.7 L480.3,1254.2 L480.6,1255.7 L480.8,1257.2 L481.1,1258.6 L481.4,1260.1 L481.7,1261.5 L481.9,1263.0 L482.2,1264.4 L482.5,1265.9 L482.7,1267.3 L483.0,1268.8 L483.3,1270.2 L483.6,1271.7 L483.8,1273.1 L484.1,1274.5 L484.4,1275.9 L484.7,1277.4 L485.0,1278.8 L485.2,1280.2 L485.5,1281.6 L485.8,1283.0 L486.1,1284.4 L486.3,1285.9 L486.6,1287.3 L486.9,1288.7 L487.2,1290.1 L487.5,1291.4 L487.8,1292.8 L488.0,1294.2 L488.3,1295.6 L488.6,1297.0 L488.9,1298.4 L489.2,1299.8 L489.5,1301.1 L489.8,1302.5 L490.0,1303.9 L490.3,1305.2 L490.6,1306.6 L490.9,1308.0 L491.2,1309.3 L491.5,1310.7 L491.8,1312.0 L492.1,1313.4 L492.4,1314.7 L492.7,1316.1 L493.0,1317.4 L493.3,1318.7 L493.6,1320.1 L493.9,1321.4 L494.1,1322.7 L494.4,1324.0 L494.7,1325.4 L495.0,1326.7 L495.3,1328.0 L495.6,1329.3 L495.9,1330.6 L496.2,1331.9 L496.5,1333.2 L496.8,1334.5 L497.2,1335.8 L497.5,1337.1 L497.8,1338.4 L498.1,1339.7 L498.4,1341.0 L498.7,1342.3 L499.0,1343.6 L499.3,1344.9 L499.6,1346.2 L499.9,1347.4 L500.2,1348.7 L500.5,1350.0 L500.8,1351.2 L501.2,1352.5 L501.5,1353.8 L501.8,1355.0 L502.1,1356.3 L502.4,1357.5 L502.7,1358.8 L503.0,1360.0 L503.4,1361.3 L503.7,1362.5 L504.0,1363.8 L504.3,1365.0 L504.6,1366.3 L504.9,1367.5 L505.3,1368.7 L505.6,1369.9 L505.9,1371.2 L506.2,1372.4 L506.6,1373.6 L506.9,1374.8 L507.2,1376.0 L507.5,1377.3 L507.9,1378.5 L508.2,1379.7 L508.5,1380.9 L508.8,1382.1 L509.2,1383.3 L509.5,1384.5 L509.8,1385.7 L510.2,1386.9 L510.5,1388.1 L510.8,1389.3 L511.1,1390.4 L511.5,1391.6 L511.8,1392.8 L512.1,1394.0 L512.5,1395.2 L512.8,1396.3 L513.2,1397.5 L513.5,1398.7 L513.8,1399.8 L514.2,1401.0 L514.5,1402.2 L514.9,1403.3 L515.2,1404.5 L515.5,1405.6 L515.9,1406.8 L516.2,1407.9 L516.6,1409.1 L516.9,1410.2 L517.3,1411.3 L517.6,1412.5 L517.9,1413.6 L518.3,1414.8 L518.6,1415.9 L519.0,1417.0 L519.3,1418.1 L519.7,1419.3 L520.0,1420.4 L520.4,1421.5 L520.8,1422.6 L521.1,1423.7 L521.5,1424.9 L521.8,1426.0 L522.2,1427.1 L522.5,1428.2 L522.9,1429.3 L523.2,1430.4 L523.6,1431.5 L524.0,1432.6 L524.3,1433.7 L524.7,1434.8 L525.0,1435.8 L525.4,1436.9 L525.8,1438.0 L526.1,1439.1 L526.5,1440.2 L526.9,1441.3 L527.2,1442.3 L527.6,1443.4 L528.0,1444.5 L528.3,1445.5 L528.7,1446.6 L529.1,1447.7 L529.4,1448.7 L529.8,1449.8 L530.2,1450.9 L530.6,1451.9 L530.9,1453.0 L531.3,1454.0 L531.7,1455.1 L532.1,1456.1 L532.4,1457.2 L532.8,1458.2 L533.2,1459.2 L533.6,1460.3 L534.0,1461.3 L534.3,1462.3 L534.7,1463.4 L535.1,1464.4 L535.5,1465.4 L535.9,1466.5 L536.3,1467.5 L536.6,1468.5 L537.0,1469.5 L537.4,1470.5 L537.8,1471.5 L538.2,1472.6 L538.6,1473.6 L539.0,1474.6 L539.4,1475.6 L539.8,1476.6 L540.2,1477.6 L540.6,1478.6 L541.0,1479.6 L541.3,1480.6 L541.7,1481.6 L542.1,1482.6 L542.5,1483.5 L542.9,1484.5 L543.3,1485.5 L543.7,1486.5 L544.1,1487.5 L544.5,1488.5 L545.0,1489.4 L545.4,1490.4 L545.8,1491.4 L546.2,1492.4 L546.6,1493.3 L547.0,1494.3 L547.4,1495.3 L547.8,1496.2 L548.2,1497.2 L548.6,1498.1 L549.0,1499.1 L549.5,1500.0 L549.9,1501.0 L550.3,1501.9 L550.7,1502.9 L551.1,1503.8 L551.5,1504.8 L551.9,1505.7 L552.4,1506.7 L552.8,1507.6 L553.2,1508.5 L553.6,1509.5 L554.1,1510.4 L554.5,1511.3 L554.9,1512.3 L555.3,1513.2 L555.8,1514.1 L556.2,1515.0 L556.6,1515.9 L557.0,1516.9 L557.5,1517.8 L557.9,1518.7 L558.3,1519.6 L558.8,1520.5 L559.2,1521.4 L559.6,1522.3 L560.1,1523.2 L560.5,1524.1 L560.9,1525.0 L561.4,1525.9 L561.8,1526.8 L562.3,1527.7 L562.7,1528.6 L563.1,1529.5 L563.6,1530.4 L564.0,1531.3 L564.5,1532.2 L564.9,1533.1 L565.4,1533.9 L565.8,1534.8 L566.3,1535.7 L566.7,1536.6 L567.2,1537.5 L567.6,1538.3 L568.1,1539.2 L568.5,1540.1 L569.0,1540.9 L569.4,1541.8 L569.9,1542.7 L570.3,1543.5 L570.8,1544.4 L571.3,1545.2 L571.7,1546.1 L572.2,1547.0 L572.6,1547.8 L573.1,1548.7 L573.6,1549.5 L574.0,1550.4 L574.5,1551.2 L575.0,1552.1 L575.4,1552.9 L575.9,1553.7 L576.4,1554.6 L576.8,1555.4 L577.3,1556.2 L577.8,1557.1 L578.3,1557.9 L578.7,1558.7 L579.2,1559.6 L579.7,1560.4 L580.2,1561.2 L580.6,1562.0 L581.1,1562.9 L581.6,1563.7 L582.1,1564.5 L582.6,1565.3 L583.1,1566.1 L583.5,1566.9 L584.0,1567.8 L584.5,1568.6 L585.0,1569.4 L585.5,1570.2 L586.0,1571.0 L586.5,1571.8 L587.0,1572.6 L587.5,1573.4 L588.0,1574.2 L588.4,1575.0 L588.9,1575.8 L589.4,1576.6 L589.9,1577.3 L590.4,1578.1 L590.9,1578.9 L591.4,1579.7 L591.9,1580.5 L592.4,1581.3 L593.0,1582.1 L593.5,1582.8 L594.0,1583.6 L594.5,1584.4 L595.0,1585.2 L595.5,1585.9 L596.0,1586.7 L596.5,1587.5 L597.0,1588.2 L597.5,1589.0 L598.1,1589.8 L598.6,1590.5 L599.1,1591.3 L599.6,1592.1 L600.1,1592.8 L600.7,1593.6 L601.2,1594.3 L601.7,1595.1 L602.2,1595.8 L602.7,1596.6 L603.3,1597.3 L603.8,1598.1 L604.3,1598.8 L604.9,1599.6 L605.4,1600.3 L605.9,1601.0 L606.5,1601.8 L607.0,1602.5 L607.5,1603.3 L608.1,1604.0 L608.6,1604.7 L609.1,1605.5 L609.7,1606.2 L610.2,1606.9 L610.8,1607.6 L611.3,1608.4 L611.9,1609.1 L612.4,1609.8 L612.9,1610.5 L613.5,1611.3 L614.0,1612.0 L614.6,1612.7 L615.1,1613.4 L615.7,1614.1 L616.2,1614.8 L616.8,1615.5 L617.4,1616.2 L617.9,1617.0 L618.5,1617.7 L619.0,1618.4 L619.6,1619.1 L620.2,1619.8 L620.7,1620.5 L621.3,1621.2 L621.8,1621.9 L622.4,1622.6 L623.0,1623.2 L623.6,1623.9 L624.1,1624.6 L624.7,1625.3 L625.3,1626.0 L625.8,1626.7 L626.4,1627.4 L627.0,1628.1 L627.6,1628.7 L628.1,1629.4 L628.7,1630.1 L629.3,1630.8 L629.9,1631.5 L630.5,1632.1 L631.1,1632.8 L631.6,1633.5 L632.2,1634.1 L632.8,1634.8 L633.4,1635.5 L634.0,1636.2 L634.6,1636.8 L635.2,1637.5 L635.8,1638.1 L636.4,1638.8 L637.0,1639.5 L637.6,1640.1 L638.2,1640.8 L638.8,1641.4 L639.4,1642.1 L640.0,1642.7 L640.6,1643.4 L641.2,1644.0 L641.8,1644.7 L642.4,1645.3 L643.0,1646.0 L643.6,1646.6 L644.2,1647.3 L644.9,1647.9 L645.5,1648.6 L646.1,1649.2 L646.7,1649.8 L647.3,1650.5 L647.9,1651.1 L648.6,1651.7 L649.2,1652.4 L649.8,1653.0 L650.4,1653.6 L651.1,1654.3 L651.7,1654.9 L652.3,1655.5 L653.0,1656.1 L653.6,1656.8 L654.2,1657.4 L654.9,1658.0 L655.5,1658.6 L656.1,1659.2 L656.8,1659.9 L657.4,1660.5 L658.1,1661.1 L658.7,1661.7 L659.3,1662.3 L660.0,1662.9 L660.6,1663.5 L661.3,1664.1 L661.9,1664.7 L662.6,1665.3 L663.2,1665.9 L663.9,1666.5 L664.5,1667.1 L665.2,1667.7 L665.9,1668.3 L666.5,1668.9 L667.2,1669.5 L667.8,1670.1 L668.5,1670.7 L669.2,1671.3 L669.8,1671.9 L670.5,1672.5 L671.2,1673.1 L671.8,1673.7 L672.5,1674.3 L673.2,1674.8 L673.9,1675.4 L674.5,1676.0 L675.2,1676.6 L675.9,1677.2 L676.6,1677.8 L677.3,1678.3 L677.9,1678.9 L678.6,1679.5 L679.3,1680.1 L680.0,1680.6 L680.7,1681.2 L681.4,1681.8 L682.1,1682.3 L682.8,1682.9 L683.5,1683.5 L684.2,1684.0 L684.9,1684.6 L685.6,1685.2 L686.3,1685.7 L687.0,1686.3 L687.7,1686.9 L688.4,1687.4 L689.1,1688.0 L689.8,1688.5 L690.5,1689.1 L691.2,1689.6 L691.9,1690.2 L692.6,1690.7 L693.4,1691.3 L694.1,1691.8 L694.8,1692.4 L695.5,1692.9 L696.2,1693.5 L697.0,1694.0 L697.7,1694.6 L698.4,1695.1 L699.1,1695.6 L699.9,1696.2 L700.6,1696.7 L701.3,1697.3 L702.1,1697.8 L702.8,1698.3 L703.5,1698.9 L704.3,1699.4 L705.0,1699.9 L705.8,1700.5 L706.5,1701.0 L707.2,1701.5 L708.0,1702.1 L708.7,1702.6 L709.5,1703.1 L710.2,1703.6 L711.0,1704.1 L711.7,1704.7 L712.5,1705.2 L713.3,1705.7 L714.0,1706.2 L714.8,1706.7 L715.5,1707.3 L716.3,1707.8 L717.1,1708.3 L717.8,1708.8 L718.6,1709.3 L719.4,1709.8 L720.2,1710.3 L720.9,1710.9 L721.7,1711.4 L722.5,1711.9 L723.3,1712.4 L724.0,1712.9 L724.8,1713.4 L725.6,1713.9 L726.4,1714.4 L727.2,1714.9 L728.0,1715.4 L728.8,1715.9 L729.5,1716.4 L730.3,1716.9 L731.1,1717.4 L731.9,1717.9 L732.7,1718.4 L733.5,1718.8 L734.3,1719.3 L735.1,1719.8 L735.9,1720.3 L736.8,1720.8 L737.6,1721.3 L738.4,1721.8 L739.2,1722.3 L740.0,1722.7 L740.8,1723.2 L741.6,1723.7 L742.4,1724.2 L743.3,1724.7 L744.1,1725.2 L744.9,1725.6 L745.7,1726.1 L746.6,1726.6 L747.4,1727.1 L748.2,1727.5 L749.1,1728.0 L749.9,1728.5 L750.7,1728.9 L751.6,1729.4 L752.4,1729.9 L753.3,1730.4 L754.1,1730.8 L754.9,1731.3 L755.8,1731.8 L756.6,1732.2 L757.5,1732.7 L758.3,1733.1 L759.2,1733.6 L760.1,1734.1 L760.9,1734.5 L761.8,1735.0 L762.6,1735.4 L763.5,1735.9 L764.4,1736.3 L765.2,1736.8 L766.1,1737.3 L767.0,1737.7 L767.8,1738.2 L768.7,1738.6 L769.6,1739.1 L770.5,1739.5 L771.4,1740.0 L772.2,1740.4 L773.1,1740.8 L774.0,1741.3 L774.9,1741.7 L775.8,1742.2 L776.7,1742.6 L777.6,1743.1 L778.5,1743.5 L779.4,1743.9 L780.3,1744.4 L781.2,1744.8 L782.1,1745.3 L783.0,1745.7 L783.9,1746.1 L784.8,1746.6 L785.7,1747.0 L786.6,1747.4 L787.5,1747.9 L788.4,1748.3 L789.3,1748.7 L790.3,1749.1 L791.2,1749.6 L792.1,1750.0 L793.0,1750.4 L794.0,1750.8 L794.9,1751.3 L795.8,1751.7 L796.8,1752.1 L797.7,1752.5 L798.6,1753.0 L799.6,1753.4 L800.5,1753.8 L801.5,1754.2 L802.4,1754.6 L803.3,1755.0 L804.3,1755.5 L805.2,1755.9 L806.2,1756.3 L807.2,1756.7 L808.1,1757.1 L809.1,1757.5 L810.0,1757.9 L811.0,1758.3 L812.0,1758.7 L812.9,1759.2 L813.9,1759.6 L814.9,1760.0 L815.8,1760.4 L816.8,1760.8 L817.8,1761.2 L818.8,1761.6 L819.8,1762.0 L820.7,1762.4 L821.7,1762.8 L822.7,1763.2 L823.7,1763.6 L824.7,1764.0 L825.7,1764.4 L826.7,1764.8 L827.7,1765.2 L828.7,1765.6 L829.7,1765.9 L830.7,1766.3 L831.7,1766.7 L832.7,1767.1 L833.7,1767.5 L834.7,1767.9 L835.7,1768.3 L836.8,1768.7 L837.8,1769.1 L838.8,1769.4 L839.8,1769.8 L840.9,1770.2 L841.9,1770.6 L842.9,1771.0 L843.9,1771.4 L845.0,1771.7 L846.0,1772.1 L847.1,1772.5 L848.1,1772.9 L849.1,1773.3 L850.2,1773.6 L851.2,1774.0 L852.3,1774.4 L853.3,1774.8 L854.4,1775.1 L855.5,1775.5 L856.5,1775.9 L857.6,1776.2 L858.6,1776.6 L859.7,1777.0 L860.8,1777.4 L861.8,1777.7 L862.9,1778.1 L864.0,1778.5 L865.1,1778.8 L866.1,1779.2 L867.2,1779.5 L868.3,1779.9 L869.4,1780.3 L870.5,1780.6 L871.6,1781.0 L872.7,1781.4 L873.8,1781.7 L874.9,1782.1 L876.0,1782.4 L877.1,1782.8 L878.2,1783.1 L879.3,1783.5 L880.4,1783.9 L881.5,1784.2 L882.6,1784.6 L883.7,1784.9 L884.8,1785.3 L886.0,1785.6 L887.1,1786.0 L888.2,1786.3 L889.3,1786.7 L890.5,1787.0 L891.6,1787.4 L892.7,1787.7 L893.9,1788.1 L895.0,1788.4 L896.2,1788.7 L897.3,1789.1 L898.5,1789.4 L899.6,1789.8 L900.8,1790.1 L901.9,1790.5 L903.1,1790.8 L904.2,1791.1 L905.4,1791.5 L906.6,1791.8 L907.7,1792.2 L908.9,1792.5 L910.1,1792.8 L911.2,1793.2 L912.4,1793.5 L913.6,1793.8 L914.8,1794.2 L916.0,1794.5 L917.1,1794.8 L918.3,1795.2 L919.5,1795.5 L920.7,1795.8 L921.9,1796.2 L923.1,1796.5 L924.3,1796.8 L925.5,1797.1 L926.7,1797.5 L927.9,1797.8 L929.1,1798.1 L930.4,1798.4 L931.6,1798.8 L932.8,1799.1 L934.0,1799.4 L935.2,1799.7 L936.5,1800.0 L937.7,1800.4 L938.9,1800.7 L940.2,1801.0 L941.4,1801.3 L942.6,1801.6 L943.9,1802.0 L945.1,1802.3 L946.4,1802.6 L947.6,1802.9 L948.9,1803.2 L950.1,1803.5 L951.4,1803.8 L952.7,1804.2 L953.9,1804.5 L955.2,1804.8 L956.5,1805.1 L957.7,1805.4 L959.0,1805.7 L960.3,1806.0 L961.6,1806.3 L962.8,1806.6 L964.1,1806.9 L965.4,1807.2 L966.7,1807.6 L968.0,1807.9 L969.3,1808.2 L970.6,1808.5 L971.9,1808.8 L973.2,1809.1 L974.5,1809.4 L975.8,1809.7 L977.1,1810.0 L978.5,1810.3 L979.8,1810.6 L981.1,1810.9 L982.4,1811.2 L983.7,1811.5 L985.1,1811.8 L986.4,1812.1 L987.7,1812.3 L989.1,1812.6 L990.4,1812.9 L991.8,1813.2 L993.1,1813.5 L994.5,1813.8 L995.8,1814.1 L997.2,1814.4 L998.5,1814.7 L999.9,1815.0 L1001.2,1815.3 L1002.6,1815.6 L1004.0,1815.8 L1005.4,1816.1 L1006.7,1816.4 L1008.1,1816.7 L1009.5,1817.0 L1010.9,1817.3 L1012.3,1817.6 L1013.6,1817.8 L1015.0,1818.1 L1016.4,1818.4 L1017.8,1818.7 L1019.2,1819.0 L1020.6,1819.2 L1022.0,1819.5 L1023.5,1819.8 L1024.9,1820.1 L1026.3,1820.4 L1027.7,1820.6 L1029.1,1820.9 L1030.5,1821.2 L1032.0,1821.5 L1033.4,1821.7 L1034.8,1822.0 L1036.3,1822.3 L1037.7,1822.6 L1039.2,1822.8 L1040.6,1823.1 L1042.1,1823.4 L1043.5,1823.7 L1045.0,1823.9 L1046.4,1824.2 L1047.9,1824.5 L1049.3,1824.7 L1050.8,1825.0 L1052.3,1825.3 L1053.8,1825.5 L1055.2,1825.8 L1056.7,1826.1 L1058.2,1826.3 L1059.7,1826.6 L1061.2,1826.9 L1062.7,1827.1 L1064.2,1827.4 L1065.7,1827.7 L1067.2,1827.9 L1068.7,1828.2 L1070.2,1828.4 L1071.7,1828.7 L1073.2,1829.0 L1074.7,1829.2 L1076.2,1829.5 L1077.8,1829.7 L1079.3,1830.0 L1080.8,1830.2 L1082.4,1830.5 L1083.9,1830.8 L1085.4,1831.0 L1087.0,1831.3 L1088.5,1831.5 L1090.1,1831.8 L1091.6,1832.0 L1093.2,1832.3 L1094.8,1832.5 L1096.3,1832.8 L1097.9,1833.0 L1099.5,1833.3 L1101.0,1833.5 L1102.6,1833.8 L1104.2,1834.0 L1105.8,1834.3 L1107.4,1834.5 L1108.9,1834.8 L1110.5,1835.0 L1112.1,1835.3 L1113.7,1835.5 L1115.3,1835.8 L1116.9,1836.0 L1118.6,1836.3 L1120.2,1836.5 L1121.8,1836.7 L1123.4,1837.0 L1125.0,1837.2 L1126.7,1837.5 L1128.3,1837.7 L1129.9,1838.0 L1131.6,1838.2 L1133.2,1838.4 L1134.8,1838.7 L1136.5,1838.9 L1138.1,1839.2 L1139.8,1839.4 L1141.5,1839.6 L1143.1,1839.9 L1144.8,1840.1 L1146.5,1840.3 L1148.1,1840.6 L1149.8,1840.8 L1151.5,1841.0 L1153.2,1841.3 L1154.8,1841.5 L1156.5,1841.7 L1158.2,1842.0 L1159.9,1842.2 L1161.6,1842.4 L1163.3,1842.7 L1165.0,1842.9 L1166.8,1843.1 L1168.5,1843.4 L1170.2,1843.6 L1171.9,1843.8 L1173.6,1844.1 L1175.4,1844.3 L1177.1,1844.5 L1178.8,1844.7 L1180.6,1845.0 L1182.3,1845.2 L1184.1,1845.4 L1185.8,1845.6 L1187.6,1845.9 L1189.3,1846.1 L1191.1,1846.3 L1192.9,1846.5 L1194.6,1846.8 L1196.4,1847.0 L1198.2,1847.2 L1200.0,1847.4 L1201.8,1847.6 L1203.5,1847.9 L1205.3,1848.1 L1207.1,1848.3 L1208.9,1848.5 L1210.7,1848.7 L1212.5,1849.0 L1214.4,1849.2 L1216.2,1849.4 L1218.0,1849.6 L1219.8,1849.8 L1221.6,1850.0 L1223.5,1850.2 L1225.3,1850.5 L1227.1,1850.7 L1229.0,1850.9 L1230.8,1851.1 L1232.7,1851.3 L1234.5,1851.5 L1236.4,1851.7 L1238.3,1852.0 L1240.1,1852.2 L1242.0,1852.4 L1243.9,1852.6 L1245.7,1852.8 L1247.6,1853.0 L1249.5,1853.2 L1251.4,1853.4 L1253.3,1853.6 L1255.2,1853.8 L1257.1,1854.0 L1259.0,1854.2 L1260.9,1854.5 L1262.8,1854.7 L1264.7,1854.9 L1266.7,1855.1 L1268.6,1855.3 L1270.5,1855.5 L1272.4,1855.7 L1274.4,1855.9 L1276.3,1856.1 L1278.3,1856.3 L1280.2,1856.5 L1282.2,1856.7 L1284.1,1856.9 L1286.1,1857.1 L1288.1,1857.3 L1290.0,1857.5 L1292.0,1857.7 L1294.0,1857.9 L1296.0,1858.1 L1298.0,1858.3 L1300.0,1858.5 L1301.9,1858.7 L1303.9,1858.9 L1306.0,1859.1 L1308.0,1859.3 L1310.0,1859.5 L1312.0,1859.7 L1314.0,1859.9 L1316.0,1860.1 L1318.1,1860.3 L1320.1,1860.4 L1322.1,1860.6 L1324.2,1860.8 L1326.2,1861.0 L1328.3,1861.2 L1330.3,1861.4 L1332.4,1861.6 L1334.5,1861.8 L1336.5,1862.0 L1338.6,1862.2 L1340.7,1862.4 L1342.8,1862.5 L1344.8,1862.7 L1346.9,1862.9 L1349.0,1863.1 L1351.1,1863.3 L1353.2,1863.5 L1355.3,1863.7 L1357.5,1863.9 L1359.6,1864.0 L1361.7,1864.2 L1363.8,1864.4 L1366.0,1864.6 L1368.1,1864.8 L1370.2,1865.0 L1372.4,1865.2 L1374.5,1865.3 L1376.7,1865.5 L1378.8,1865.7 L1381.0,1865.9 L1383.2,1866.1 L1385.3,1866.2 L1387.5,1866.4 L1389.7,1866.6 L1391.9,1866.8 L1394.1,1867.0 L1396.3,1867.1 L1398.5,1867.3 L1400.7,1867.5 L1402.9,1867.7 L1405.1,1867.9 L1407.3,1868.0 L1409.5,1868.2 L1411.7,1868.4 L1414.0,1868.6 L1416.2,1868.7 L1418.5,1868.9 L1420.7,1869.1 L1422.9,1869.3 L1425.2,1869.4 L1427.5,1869.6 L1429.7,1869.8 L1432.0,1870.0 L1434.3,1870.1 L1436.6,1870.3 L1438.8,1870.5 L1441.1,1870.7 L1443.4,1870.8 L1445.7,1871.0 L1448.0,1871.2 L1450.3,1871.3 L1452.6,1871.5 L1455.0,1871.7 L1457.3,1871.9 L1459.6,1872.0 L1461.9,1872.2 L1464.3,1872.4 L1466.6,1872.5 L1469.0,1872.7 L1471.3,1872.9 L1473.7,1873.0 L1476.0,1873.2 L1478.4,1873.4 L1480.8,1873.5 L1483.2,1873.7 L1485.5,1873.9 L1487.9,1874.0 L1490.3,1874.2 L1492.7,1874.4 L1495.1,1874.5 L1497.5,1874.7 L1499.9,1874.8 L1502.4,1875.0 L1504.8,1875.2 L1507.2,1875.3 L1509.6,1875.5 L1512.1,1875.7 L1514.5,1875.8 L1517.0,1876.0 L1519.4,1876.1 L1521.9,1876.3 L1524.3,1876.5 L1526.8,1876.6 L1529.3,1876.8 L1531.8,1876.9 L1534.2,1877.1 L1536.7,1877.3 L1539.2,1877.4 L1541.7,1877.6 L1544.2,1877.7 L1546.7,1877.9 L1549.3,1878.0 L1551.8,1878.2 L1554.3,1878.4 L1556.8,1878.5 L1559.4,1878.7 L1561.9,1878.8 L1564.5,1879.0 L1567.0,1879.1 L1569.6,1879.3 L1572.1,1879.4 L1574.7,1879.6 L1577.3,1879.7 L1579.9,1879.9 L1582.5,1880.0 L1585.0,1880.2 L1587.6,1880.3 L1590.2,1880.5 L1592.9,1880.7 L1595.5,1880.8 L1598.1,1881.0 L1600.7,1881.1 L1603.3,1881.3 L1606.0,1881.4 L1608.6,1881.6 L1611.3,1881.7 L1613.9,1881.8 L1616.6,1882.0 L1619.2,1882.1 L1621.9,1882.3 L1624.6,1882.4 L1627.3,1882.6 L1629.9,1882.7 L1632.6,1882.9 L1635.3,1883.0 L1638.0,1883.2 L1640.7,1883.3 L1643.5,1883.5 L1646.2,1883.6 L1648.9,1883.8 L1651.6,1883.9 L1654.4,1884.0 L1657.1,1884.2 L1659.9,1884.3 L1662.6,1884.5 L1665.4,1884.6 L1668.1,1884.8 L1670.9,1884.9 L1673.7,1885.0 L1676.5,1885.2 L1679.3,1885.3 L1682.1,1885.5 L1684.9,1885.6 L1687.7,1885.7 L1690.5,1885.9 L1693.3,1886.0 L1696.1,1886.2 L1699.0,1886.3 L1701.8,1886.4 L1704.6,1886.6 L1707.5,1886.7 L1710.3,1886.9 L1713.2,1887.0 L1716.1,1887.1 L1718.9,1887.3 L1721.8,1887.4 L1724.7,1887.5 L1727.6,1887.7 L1730.5,1887.8 L1733.4,1887.9 L1736.3,1888.1 L1739.2,1888.2 L1742.1,1888.4 L1745.1,1888.5 L1748.0,1888.6 L1750.9,1888.8 L1753.9,1888.9 L1756.8,1889.0 L1759.8,1889.2 L1762.8,1889.3 L1765.7,1889.4 L1768.7,1889.6 L1771.7,1889.7 L1774.7,1889.8 L1777.7,1889.9 L1780.7,1890.1 L1783.7,1890.2 L1786.7,1890.3 L1789.7,1890.5 L1792.8,1890.6 L1795.8,1890.7 L1798.8,1890.9 L1801.9,1891.0 L1804.9,1891.1 L1808.0,1891.2 L1811.1,1891.4 L1814.1,1891.5 L1817.2,1891.6 L1820.3,1891.8 L1823.4,1891.9 L1826.5,1892.0 L1829.6,1892.1 L1832.7,1892.3 L1835.8,1892.4 L1839.0,1892.5 L1842.1,1892.6 L1845.2,1892.8 L1848.4,1892.9 L1851.5,1893.0 L1854.7,1893.1 L1857.9,1893.3 L1861.0,1893.4 L1864.2,1893.5 L1867.4,1893.6 L1870.6,1893.8 L1873.8,1893.9 L1877.0,1894.0 L1880.2,1894.1 L1883.4,1894.3 L1886.6,1894.4 L1889.9,1894.5 L1893.1,1894.6 L1896.4,1894.7 L1899.6,1894.9 L1902.9,1895.0 L1906.1,1895.1 L1909.4,1895.2 L1912.7,1895.3 L1916.0,1895.5 L1919.3,1895.6 L1922.6,1895.7 L1925.9,1895.8 L1929.2,1895.9 L1932.5,1896.1 L1935.8,1896.2 L1939.2,1896.3 L1942.5,1896.4 L1945.9,1896.5 L1949.2,1896.6 L1952.6,1896.8 L1956.0,1896.9 L1959.3,1897.0 L1962.7,1897.1 L1966.1,1897.2 L1969.5,1897.3 L1972.9,1897.5 L1976.3,1897.6 L1979.8,1897.7 L1983.2,1897.8 L1986.6,1897.9 L1990.1,1898.0 L1993.5,1898.2 L1997.0,1898.3 L2000.4,1898.4 L2003.9,1898.5 L2007.4,1898.6 L2010.9,1898.7 L2014.4,1898.8 L2017.9,1898.9 L2021.4,1899.1 L2024.9,1899.2 L2028.4,1899.3 L2032.0,1899.4 L2035.5,1899.5 L2039.0,1899.6 L2042.6,1899.7 L2046.2,1899.8 L2049.7,1899.9 L2053.3,1900.1 L2056.9,1900.2 L2060.5,1900.3 L2064.1,1900.4 L2067.7,1900.5 L2071.3,1900.6 L2074.9,1900.7 L2078.6,1900.8 L2082.2,1900.9 L2085.8,1901.0 L2089.5,1901.1 L2093.1,1901.3 L2096.8,1901.4 L2100.5,1901.5 L2104.2,1901.6 L2107.9,1901.7 L2111.6,1901.8 L2115.3,1901.9 L2119.0,1902.0 L2122.7,1902.1 L2126.4,1902.2 L2130.2,1902.3 L2133.9,1902.4 L2137.7,1902.5 L2141.4,1902.6 L2145.2,1902.7 L2149.0,1902.8 L2152.8,1902.9 L2156.6,1903.0 L2160.4,1903.1 L2164.2,1903.3 L2168.0,1903.4 L2171.8,1903.5 L2175.6,1903.6 L2179.5,1903.7 L2183.3,1903.8 L2187.2,1903.9 L2191.1,1904.0 L2194.9,1904.1 L2198.8,1904.2 L2202.7,1904.3 L2206.6,1904.4 L2210.5,1904.5 L2214.4,1904.6 L2218.4,1904.7 L2222.3,1904.8 L2226.2,1904.9 L2230.2,1905.0 L2234.1,1905.1 L2238.1,1905.2 L2242.1,1905.3 L2246.0,1905.4 L2250.0,1905.5 L2254.0,1905.6 L2258.0,1905.7 L2262.1,1905.8 L2266.1,1905.9 L2270.1,1906.0 L2274.2,1906.1 L2278.2,1906.2 L2282.3,1906.3 L2286.3,1906.4 L2290.4,1906.4 L2294.5,1906.5 L2298.6,1906.6 L2302.7,1906.7 L2306.8,1906.8 L2310.9,1906.9 L2315.0,1907.0 L2319.2,1907.1 L2323.3,1907.2 L2327.5,1907.3 L2331.6,1907.4 L2335.8,1907.5 L2340.0,1907.6 L2344.2,1907.7 L2348.4,1907.8 L2352.6,1907.9 L2356.8,1908.0 L2361.0,1908.1 L2365.2,1908.2 L2369.5,1908.2 L2373.7,1908.3 L2378.0,1908.4 L2382.3,1908.5 L2386.5,1908.6 L2390.8,1908.7 L2395.1,1908.8 L2399.4,1908.9 L2403.7,1909.0 L2408.0,1909.1 L2412.4,1909.2 L2416.7,1909.3 L2421.1,1909.3 L2425.4,1909.4 L2429.8,1909.5 L2434.2,1909.6 L2438.6,1909.7 L2443.0,1909.8 L2447.4,1909.9 L2451.8,1910.0 L2456.2,1910.1 L2460.6,1910.2 L2465.1,1910.2 L2469.5,1910.3" stroke="#0000ff" stroke-width="8.3" stroke-dasharray="17.9 34.2 34.6 34.3 34.6 34.3 34.6 34.3 34.7 34.4 34.7 34.5 34.8 34.6 35.0 34.9 35.4 35.3 35.9 36.0 36.8 37.0 37.9 38.2 39.0 39.1 39.8 39.8 40.3 40.1 40.6 40.4 40.8 40.5 40.9 40.6 40.9 40.6 41.0 40.6 41.0 40.7 41.0 40.7 41.0 40.7 41.0 40.7 41.1 40.7 41.1 40.7 41.1 40.7 41.1 40.7 41.1 40.7 41.1 40.7 41.1 40.7 41.1 40.7 41.1 40.7 41.1 5000.0"/>
<path transform="scale(0.84,1)" d="M377.2,1032.7 L377.3,1035.4 L377.4,1038.2 L377.4,1040.9 L377.5,1043.6 L377.6,1046.4 L377.7,1049.1 L377.7,1051.8 L377.8,1054.5 L377.9,1057.2 L378.0,1059.9 L378.0,1062.6 L378.1,1065.2 L378.2,1067.9 L378.3,1070.5 L378.3,1073.2 L378.4,1075.8 L378.5,1078.4 L378.6,1081.1 L378.6,1083.7 L378.7,1086.3 L378.8,1088.9 L378.9,1091.5 L379.0,1094.0 L379.0,1096.6 L379.1,1099.2 L379.2,1101.7 L379.3,1104.3 L379.3,1106.8 L379.4,1109.4 L379.5,1111.9 L379.6,1114.4 L379.7,1116.9 L379.7,1119.4 L379.8,1121.9 L379.9,1124.4 L380.0,1126.9 L380.1,1129.4 L380.1,1131.8 L380.2,1134.3 L380.3,1136.7 L380.4,1139.2 L380.5,1141.6 L380.5,1144.0 L380.6,1146.5 L380.7,1148.9 L380.8,1151.3 L380.9,1153.7 L381.0,1156.1 L381.0,1158.4 L381.1,1160.8 L381.2,1163.2 L381.3,1165.6 L381.4,1167.9 L381.5,1170.3 L381.5,1172.6 L381.6,1174.9 L381.7,1177.3 L381.8,1179.6 L381.9,1181.9 L382.0,1184.2 L382.1,1186.5 L382.2,1188.8 L382.2,1191.1 L382.3,1193.4 L382.4,1195.6 L382.5,1197.9 L382.6,1200.1 L382.7,1202.4 L382.8,1204.6 L382.9,1206.9 L382.9,1209.1 L383.0,1211.3 L383.1,1213.5 L383.2,1215.8 L383.3,1218.0 L383.4,1220.2 L383.5,1222.3 L383.6,1224.5 L383.7,1226.7 L383.8,1228.9 L383.8,1231.0 L383.9,1233.2 L384.0,1235.3 L384.1,1237.5 L384.2,1239.6 L384.3,1241.8 L384.4,1243.9 L384.5,1246.0 L384.6,1248.1 L384.7,1250.2 L384.8,1252.3 L384.9,1254.4 L385.0,1256.5 L385.1,1258.6 L385.2,1260.7 L385.3,1262.7 L385.4,1264.8 L385.5,1266.8 L385.6,1268.9 L385.6,1270.9 L385.7,1273.0 L385.8,1275.0 L385.9,1277.0 L386.0,1279.0 L386.1,1281.0 L386.2,1283.1 L386.3,1285.1 L386.4,1287.0 L386.5,1289.0 L386.6,1291.0 L386.7,1293.0 L386.8,1295.0 L386.9,1296.9 L387.0,1298.9 L387.1,1300.8 L387.2,1302.8 L387.3,1304.7 L387.4,1306.7 L387.6,1308.6 L387.7,1310.5 L387.8,1312.4 L387.9,1314.3 L388.0,1316.2 L388.1,1318.1 L388.2,1320.0 L388.3,1321.9 L388.4,1323.8 L388.5,1325.7 L388.6,1327.6 L388.7,1329.4 L388.8,1331.3 L388.9,1333.1 L389.0,1335.0 L389.1,1336.8 L389.2,1338.7 L389.3,1340.5 L389.5,1342.3 L389.6,1344.2 L389.7,1346.0 L389.8,1347.8 L389.9,1349.6 L390.0,1351.4 L390.1,1353.2 L390.2,1355.0 L390.3,1356.8 L390.4,1358.5 L390.6,1360.3 L390.7,1362.1 L390.8,1363.8 L390.9,1365.6 L391.0,1367.3 L391.1,1369.1 L391.2,1370.8 L391.4,1372.6 L391.5,1374.3 L391.6,1376.0 L391.7,1377.7 L391.8,1379.5 L391.9,1381.2 L392.0,1382.9 L392.2,1384.6 L392.3,1386.3 L392.4,1388.0 L392.5,1389.6 L392.6,1391.3 L392.7,1393.0 L392.9,1394.7 L393.0,1396.3 L393.1,1398.0 L393.2,1399.6 L393.3,1401.3 L393.5,1402.9 L393.6,1404.6 L393.7,1406.2 L393.8,1407.8 L393.9,1409.5 L394.1,1411.1 L394.2,1412.7 L394.3,1414.3 L394.4,1415.9 L394.6,1417.5 L394.7,1419.1 L394.8,1420.7 L394.9,1422.3 L395.1,1423.9 L395.2,1425.4 L395.3,1427.0 L395.4,1428.6 L395.6,1430.1 L395.7,1431.7 L395.8,1433.3 L396.0,1434.8 L396.1,1436.3 L396.2,1437.9 L396.3,1439.4 L396.5,1440.9 L396.6,1442.5 L396.7,1444.0 L396.9,1445.5 L397.0,1447.0 L397.1,1448.5 L397.2,1450.0 L397.4,1451.5 L397.5,1453.0 L397.6,1454.5 L397.8,1456.0 L397.9,1457.5 L398.0,1459.0 L398.2,1460.4 L398.3,1461.9 L398.5,1463.4 L398.6,1464.8 L398.7,1466.3 L398.9,1467.7 L399.0,1469.2 L399.1,1470.6 L399.3,1472.0 L399.4,1473.5 L399.5,1474.9 L399.7,1476.3 L399.8,1477.7 L400.0,1479.2 L400.1,1480.6 L400.2,1482.0 L400.4,1483.4 L400.5,1484.8 L400.7,1486.2 L400.8,1487.6 L401.0,1488.9 L401.1,1490.3 L401.2,1491.7 L401.4,1493.1 L401.5,1494.4 L401.7,1495.8 L401.8,1497.2 L402.0,1498.5 L402.1,1499.9 L402.3,1501.2 L402.4,1502.6 L402.6,1503.9 L402.7,1505.2 L402.9,1506.6 L403.0,1507.9 L403.2,1509.2 L403.3,1510.6 L403.5,1511.9 L403.6,1513.2 L403.8,1514.5 L403.9,1515.8 L404.1,1517.1 L404.2,1518.4 L404.4,1519.7 L404.5,1521.0 L404.7,1522.3 L404.8,1523.5 L405.0,1524.8 L405.1,1526.1 L405.3,1527.4 L405.4,1528.6 L405.6,1529.9 L405.8,1531.2 L405.9,1532.4 L406.1,1533.7 L406.2,1534.9 L406.4,1536.2 L406.6,1537.4 L406.7,1538.6 L406.9,1539.9 L407.0,1541.1 L407.2,1542.3 L407.4,1543.5 L407.5,1544.8 L407.7,1546.0 L407.8,1547.2 L408.0,1548.4 L408.2,1549.6 L408.3,1550.8 L408.5,1552.0 L408.7,1553.2 L408.8,1554.4 L409.0,1555.6 L409.2,1556.7 L409.3,1557.9 L409.5,1559.1 L409.7,1560.3 L409.8,1561.4 L410.0,1562.6 L410.2,1563.8 L410.3,1564.9 L410.5,1566.1 L410.7,1567.2 L410.9,1568.4 L411.0,1569.5 L411.2,1570.7 L411.4,1571.8 L411.6,1572.9 L411.7,1574.1 L411.9,1575.2 L412.1,1576.3 L412.3,1577.4 L412.4,1578.5 L412.6,1579.7 L412.8,1580.8 L413.0,1581.9 L413.2,1583.0 L413.3,1584.1 L413.5,1585.2 L413.7,1586.3 L413.9,1587.4 L414.1,1588.4 L414.2,1589.5 L414.4,1590.6 L414.6,1591.7 L414.8,1592.8 L415.0,1593.8 L415.2,1594.9 L415.3,1596.0 L415.5,1597.0 L415.7,1598.1 L415.9,1599.1 L416.1,1600.2 L416.3,1601.2 L416.5,1602.3 L416.7,1603.3 L416.8,1604.4 L417.0,1605.4 L417.2,1606.4 L417.4,1607.5 L417.6,1608.5 L417.8,1609.5 L418.0,1610.5 L418.2,1611.6 L418.4,1612.6 L418.6,1613.6 L418.8,1614.6 L419.0,1615.6 L419.2,1616.6 L419.4,1617.6 L419.6,1618.6 L419.8,1619.6 L420.0,1620.6 L420.2,1621.6 L420.4,1622.6 L420.6,1623.5 L420.8,1624.5 L421.0,1625.5 L421.2,1626.5 L421.4,1627.4 L421.6,1628.4 L421.8,1629.4 L422.0,1630.3 L422.2,1631.3 L422.4,1632.2 L422.6,1633.2 L422.8,1634.1 L423.0,1635.1 L423.2,1636.0 L423.4,1637.0 L423.7,1637.9 L423.9,1638.9 L424.1,1639.8 L424.3,1640.7 L424.5,1641.6 L424.7,1642.6 L424.9,1643.5 L425.1,1644.4 L425.4,1645.3 L425.6,1646.2 L425.8,1647.2 L426.0,1648.1 L426.2,1649.0 L426.4,1649.9 L426.7,1650.8 L426.9,1651.7 L427.1,1652.6 L427.3,1653.5 L427.5,1654.4 L427.8,1655.2 L428.0,1656.1 L428.2,1657.0 L428.4,1657.9 L428.7,1658.8 L428.9,1659.6 L429.1,1660.5 L429.3,1661.4 L429.6,1662.2 L429.8,1663.1 L430.0,1664.0 L430.3,1664.8 L430.5,1665.7 L430.7,1666.5 L431.0,1667.4 L431.2,1668.2 L431.4,1669.1 L431.7,1669.9 L431.9,1670.8 L432.1,1671.6 L432.4,1672.4 L432.6,1673.3 L432.8,1674.1 L433.1,1674.9 L433.3,1675.8 L433.6,1676.6 L433.8,1677.4 L434.0,1678.2 L434.3,1679.0 L434.5,1679.8 L434.8,1680.7 L435.0,1681.5 L435.3,1682.3 L435.5,1683.1 L435.7,1683.9 L436.0,1684.7 L436.2,1685.5 L436.5,1686.3 L436.7,1687.1 L437.0,1687.8 L437.2,1688.6 L437.5,1689.4 L437.7,1690.2 L438.0,1691.0 L438.2,1691.8 L438.5,1692.5 L438.8,1693.3 L439.0,1694.1 L439.3,1694.9 L439.5,1695.6 L439.8,1696.4 L440.0,1697.1 L440.3,1697.9 L440.6,1698.7 L440.8,1699.4 L441.1,1700.2 L441.4,1700.9 L441.6,1701.7 L441.9,1702.4 L442.1,1703.2 L442.4,1703.9 L442.7,1704.6 L442.9,1705.4 L443.2,1706.1 L443.5,1706.8 L443.8,1707.6 L444.0,1708.3 L444.3,1709.0 L444.6,1709.8 L444.8,1710.5 L445.1,1711.2 L445.4,1711.9 L445.7,1712.6 L445.9,1713.3 L446.2,1714.1 L446.5,1714.8 L446.8,1715.5 L447.1,1716.2 L447.3,1716.9 L447.6,1717.6 L447.9,1718.3 L448.2,1719.0 L448.5,1719.7 L448.8,1720.4 L449.0,1721.0 L449.3,1721.7 L449.6,1722.4 L449.9,1723.1 L450.2,1723.8 L450.5,1724.5 L450.8,1725.1 L451.1,1725.8 L451.4,1726.5 L451.7,1727.2 L451.9,1727.8 L452.2,1728.5 L452.5,1729.2 L452.8,1729.8 L453.1,1730.5 L453.4,1731.2 L453.7,1731.8 L454.0,1732.5 L454.3,1733.1 L454.6,1733.8 L454.9,1734.4 L455.2,1735.1 L455.5,1735.7 L455.9,1736.4 L456.2,1737.0 L456.5,1737.7 L456.8,1738.3 L457.1,1738.9 L457.4,1739.6 L457.7,1740.2 L458.0,1740.8 L458.3,1741.5 L458.6,1742.1 L459.0,1742.7 L459.3,1743.3 L459.6,1744.0 L459.9,1744.6 L460.2,1745.2 L460.6,1745.8 L460.9,1746.4 L461.2,1747.0 L461.5,1747.7 L461.8,1748.3 L462.2,1748.9 L462.5,1749.5 L462.8,1750.1 L463.1,1750.7 L463.5,1751.3 L463.8,1751.9 L464.1,1752.5 L464.5,1753.1 L464.8,1753.7 L465.1,1754.3 L465.5,1754.8 L465.8,1755.4 L466.1,1756.0 L466.5,1756.6 L466.8,1757.2 L467.2,1757.8 L467.5,1758.3 L467.8,1758.9 L468.2,1759.5 L468.5,1760.1 L468.9,1760.6 L469.2,1761.2 L469.6,1761.8 L469.9,1762.3 L470.3,1762.9 L470.6,1763.5 L471.0,1764.0 L471.3,1764.6 L471.7,1765.2 L472.0,1765.7 L472.4,1766.3 L472.7,1766.8 L473.1,1767.4 L473.5,1767.9 L473.8,1768.5 L474.2,1769.0 L474.5,1769.6 L474.9,1770.1 L475.3,1770.7 L475.6,1771.2 L476.0,1771.7 L476.4,1772.3 L476.7,1772.8 L477.1,1773.3 L477.5,1773.9 L477.8,1774.4 L478.2,1774.9 L478.6,1775.5 L479.0,1776.0 L479.3,1776.5 L479.7,1777.0 L480.1,1777.6 L480.5,1778.1 L480.8,1778.6 L481.2,1779.1 L481.6,1779.6 L482.0,1780.1 L482.4,1780.7 L482.8,1781.2 L483.2,1781.7 L483.5,1782.2 L483.9,1782.7 L484.3,1783.2 L484.7,1783.7 L485.1,1784.2 L485.5,1784.7 L485.9,1785.2 L486.3,1785.7 L486.7,1786.2 L487.1,1786.7 L487.5,1787.2 L487.9,1787.7 L488.3,1788.2 L488.7,1788.6 L489.1,1789.1 L489.5,1789.6 L489.9,1790.1 L490.3,1790.6 L490.7,1791.1 L491.1,1791.5 L491.6,1792.0 L492.0,1792.5 L492.4,1793.0 L492.8,1793.4 L493.2,1793.9 L493.6,1794.4 L494.1,1794.9 L494.5,1795.3 L494.9,1795.8 L495.3,1796.3 L495.7,1796.7 L496.2,1797.2 L496.6,1797.7 L497.0,1798.1 L497.5,1798.6 L497.9,1799.0 L498.3,1799.5 L498.8,1799.9 L499.2,1800.4 L499.6,1800.8 L500.1,1801.3 L500.5,1801.7 L500.9,1802.2 L501.4,1802.6 L501.8,1803.1 L502.3,1803.5 L502.7,1804.0 L503.2,1804.4 L503.6,1804.9 L504.1,1805.3 L504.5,1805.7 L505.0,1806.2 L505.4,1806.6 L505.9,1807.0 L506.3,1807.5 L506.8,1807.9 L507.2,1808.3 L507.7,1808.8 L508.2,1809.2 L508.6,1809.6 L509.1,1810.0 L509.6,1810.5 L510.0,1810.9 L510.5,1811.3 L511.0,1811.7 L511.4,1812.1 L511.9,1812.6 L512.4,1813.0 L512.9,1813.4 L513.3,1813.8 L513.8,1814.2 L514.3,1814.6 L514.8,1815.0 L515.3,1815.4 L515.7,1815.8 L516.2,1816.3 L516.7,1816.7 L517.2,1817.1 L517.7,1817.5 L518.2,1817.9 L518.7,1818.3 L519.2,1818.7 L519.7,1819.1 L520.2,1819.5 L520.7,1819.9 L521.2,1820.2 L521.7,1820.6 L522.2,1821.0 L522.7,1821.4 L523.2,1821.8 L523.7,1822.2 L524.2,1822.6 L524.7,1823.0 L525.2,1823.4 L525.7,1823.7 L526.3,1824.1 L526.8,1824.5 L527.3,1824.9 L527.8,1825.3 L528.3,1825.6 L528.9,1826.0 L529.4,1826.4 L529.9,1826.8 L530.4,1827.1 L531.0,1827.5 L531.5,1827.9 L532.0,1828.3 L532.6,1828.6 L533.1,1829.0 L533.6,1829.4 L534.2,1829.7 L534.7,1830.1 L535.3,1830.5 L535.8,1830.8 L536.3,1831.2 L536.9,1831.5 L537.4,1831.9 L538.0,1832.3 L538.5,1832.6 L539.1,1833.0 L539.7,1833.3 L540.2,1833.7 L540.8,1834.0 L541.3,1834.4 L541.9,1834.7 L542.5,1835.1 L543.0,1835.4 L543.6,1835.8 L544.2,1836.1 L544.7,1836.5 L545.3,1836.8 L545.9,1837.2 L546.5,1837.5 L547.0,1837.8 L547.6,1838.2 L548.2,1838.5 L548.8,1838.9 L549.4,1839.2 L549.9,1839.5 L550.5,1839.9 L551.1,1840.2 L551.7,1840.5 L552.3,1840.9 L552.9,1841.2 L553.5,1841.5 L554.1,1841.9 L554.7,1842.2 L555.3,1842.5 L555.9,1842.8 L556.5,1843.2 L557.1,1843.5 L557.7,1843.8 L558.3,1844.1 L558.9,1844.5 L559.6,1844.8 L560.2,1845.1 L560.8,1845.4 L561.4,1845.7 L562.0,1846.1 L562.7,1846.4 L563.3,1846.7 L563.9,1847.0 L564.5,1847.3 L565.2,1847.6 L565.8,1847.9 L566.4,1848.3 L567.1,1848.6 L567.7,1848.9 L568.4,1849.2 L569.0,1849.5 L569.6,1849.8 L570.3,1850.1 L570.9,1850.4 L571.6,1850.7 L572.2,1851.0 L572.9,1851.3 L573.6,1851.6 L574.2,1851.9 L574.9,1852.2 L575.5,1852.5 L576.2,1852.8 L576.9,1853.1 L577.5,1853.4 L578.2,1853.7 L578.9,1854.0 L579.5,1854.3 L580.2,1854.6 L580.9,1854.9 L581.6,1855.1 L582.3,1855.4 L582.9,1855.7 L583.6,1856.0 L584.3,1856.3 L585.0,1856.6 L585.7,1856.9 L586.4,1857.2 L587.1,1857.4 L587.8,1857.7 L588.5,1858.0 L589.2,1858.3 L589.9,1858.6 L590.6,1858.8 L591.3,1859.1 L592.0,1859.4 L592.7,1859.7 L593.5,1859.9 L594.2,1860.2 L594.9,1860.5 L595.6,1860.8 L596.3,1861.0 L597.1,1861.3 L597.8,1861.6 L598.5,1861.9 L599.3,1862.1 L600.0,1862.4 L600.7,1862.7 L601.5,1862.9 L602.2,1863.2 L603.0,1863.5 L603.7,1863.7 L604.4,1864.0 L605.2,1864.2 L606.0,1864.5 L606.7,1864.8 L607.5,1865.0 L608.2,1865.3 L609.0,1865.5 L609.7,1865.8 L610.5,1866.1 L611.3,1866.3 L612.1,1866.6 L612.8,1866.8 L613.6,1867.1 L614.4,1867.3 L615.2,1867.6 L615.9,1867.8 L616.7,1868.1 L617.5,1868.3 L618.3,1868.6 L619.1,1868.8 L619.9,1869.1 L620.7,1869.3 L621.5,1869.6 L622.3,1869.8 L623.1,1870.1 L623.9,1870.3 L624.7,1870.6 L625.5,1870.8 L626.3,1871.1 L627.1,1871.3 L628.0,1871.5 L628.8,1871.8 L629.6,1872.0 L630.4,1872.3 L631.3,1872.5 L632.1,1872.7 L632.9,1873.0 L633.8,1873.2 L634.6,1873.4 L635.4,1873.7 L636.3,1873.9 L637.1,1874.1 L638.0,1874.4 L638.8,1874.6 L639.7,1874.8 L640.5,1875.1 L641.4,1875.3 L642.2,1875.5 L643.1,1875.8 L644.0,1876.0 L644.8,1876.2 L645.7,1876.4 L646.6,1876.7 L647.5,1876.9 L648.3,1877.1 L649.2,1877.3 L650.1,1877.6 L651.0,1877.8 L651.9,1878.0 L652.8,1878.2 L653.7,1878.4 L654.6,1878.7 L655.5,1878.9 L656.4,1879.1 L657.3,1879.3 L658.2,1879.5 L659.1,1879.7 L660.0,1880.0 L660.9,1880.2 L661.8,1880.4 L662.8,1880.6 L663.7,1880.8 L664.6,1881.0 L665.5,1881.2 L666.5,1881.5 L667.4,1881.7 L668.3,1881.9 L669.3,1882.1 L670.2,1882.3 L671.2,1882.5 L672.1,1882.7 L673.1,1882.9 L674.0,1883.1 L675.0,1883.3 L676.0,1883.5 L676.9,1883.7 L677.9,1883.9 L678.9,1884.1 L679.8,1884.4 L680.8,1884.6 L681.8,1884.8 L682.8,1885.0 L683.7,1885.2 L684.7,1885.4 L685.7,1885.6 L686.7,1885.8 L687.7,1886.0 L688.7,1886.1 L689.7,1886.3 L690.7,1886.5 L691.7,1886.7 L692.7,1886.9 L693.8,1887.1 L694.8,1887.3 L695.8,1887.5 L696.8,1887.7 L697.8,1887.9 L698.9,1888.1 L699.9,1888.3 L700.9,1888.5 L702.0,1888.7 L703.0,1888.9 L704.1,1889.0 L705.1,1889.2 L706.2,1889.4 L707.2,1889.6 L708.3,1889.8 L709.3,1890.0 L710.4,1890.2 L711.5,1890.3 L712.5,1890.5 L713.6,1890.7 L714.7,1890.9 L715.8,1891.1 L716.8,1891.3 L717.9,1891.4 L719.0,1891.6 L720.1,1891.8 L721.2,1892.0 L722.3,1892.2 L723.4,1892.3 L724.5,1892.5 L725.6,1892.7 L726.7,1892.9 L727.8,1893.1 L729.0,1893.2 L730.1,1893.4 L731.2,1893.6 L732.3,1893.8 L733.5,1893.9 L734.6,1894.1 L735.7,1894.3 L736.9,1894.4 L738.0,1894.6 L739.2,1894.8 L740.3,1895.0 L741.5,1895.1 L742.6,1895.3 L743.8,1895.5 L745.0,1895.6 L746.1,1895.8 L747.3,1896.0 L748.5,1896.1 L749.7,1896.3 L750.9,1896.5 L752.0,1896.6 L753.2,1896.8 L754.4,1897.0 L755.6,1897.1 L756.8,1897.3 L758.0,1897.5 L759.2,1897.6 L760.5,1897.8 L761.7,1898.0 L762.9,1898.1 L764.1,1898.3 L765.3,1898.4 L766.6,1898.6 L767.8,1898.8 L769.0,1898.9 L770.3,1899.1 L771.5,1899.2 L772.8,1899.4 L774.0,1899.6 L775.3,1899.7 L776.5,1899.9 L777.8,1900.0 L779.1,1900.2 L780.3,1900.3 L781.6,1900.5 L782.9,1900.6 L784.2,1900.8 L785.5,1900.9 L786.8,1901.1 L788.1,1901.3 L789.4,1901.4 L790.7,1901.6 L792.0,1901.7 L793.3,1901.9 L794.6,1902.0 L795.9,1902.2 L797.2,1902.3 L798.5,1902.5 L799.9,1902.6 L801.2,1902.8 L802.5,1902.9 L803.9,1903.0 L805.2,1903.2 L806.6,1903.3 L807.9,1903.5 L809.3,1903.6 L810.7,1903.8 L812.0,1903.9 L813.4,1904.1 L814.8,1904.2 L816.1,1904.3 L817.5,1904.5 L818.9,1904.6 L820.3,1904.8 L821.7,1904.9 L823.1,1905.1 L824.5,1905.2 L825.9,1905.3 L827.3,1905.5 L828.7,1905.6 L830.2,1905.8 L831.6,1905.9 L833.0,1906.0 L834.4,1906.2 L835.9,1906.3 L837.3,1906.4 L838.8,1906.6 L840.2,1906.7 L841.7,1906.9 L843.1,1907.0 L844.6,1907.1 L846.0,1907.3 L847.5,1907.4 L849.0,1907.5 L850.5,1907.7 L852.0,1907.8 L853.4,1907.9 L854.9,1908.1 L856.4,1908.2 L857.9,1908.3 L859.4,1908.4 L861.0,1908.6 L862.5,1908.7 L864.0,1908.8 L865.5,1909.0 L867.0,1909.1 L868.6,1909.2 L870.1,1909.4 L871.7,1909.5 L873.2,1909.6 L874.8,1909.7 L876.3,1909.9 L877.9,1910.0 L879.4,1910.1 L881.0,1910.2 L882.6,1910.4 L884.2,1910.5 L885.8,1910.6 L887.4,1910.7 L888.9,1910.9 L890.5,1911.0 L892.1,1911.1 L893.8,1911.2 L895.4,1911.4 L897.0,1911.5 L898.6,1911.6 L900.2,1911.7 L901.9,1911.8 L903.5,1912.0 L905.2,1912.1 L906.8,1912.2 L908.5,1912.3 L910.1,1912.4 L911.8,1912.6 L913.4,1912.7 L915.1,1912.8 L916.8,1912.9 L918.5,1913.0 L920.2,1913.1 L921.9,1913.3 L923.5,1913.4 L925.3,1913.5 L927.0,1913.6 L928.7,1913.7 L930.4,1913.8 L932.1,1914.0 L933.8,1914.1 L935.6,1914.2 L937.3,1914.3 L939.1,1914.4 L940.8,1914.5 L942.6,1914.6 L944.3,1914.7 L946.1,1914.9 L947.9,1915.0 L949.6,1915.1 L951.4,1915.2 L953.2,1915.3 L955.0,1915.4 L956.8,1915.5 L958.6,1915.6 L960.4,1915.7 L962.2,1915.8 L964.0,1916.0 L965.8,1916.1 L967.7,1916.2 L969.5,1916.3 L971.3,1916.4 L973.2,1916.5 L975.0,1916.6 L976.9,1916.7 L978.8,1916.8 L980.6,1916.9 L982.5,1917.0 L984.4,1917.1 L986.3,1917.2 L988.1,1917.3 L990.0,1917.4 L991.9,1917.5 L993.9,1917.6 L995.8,1917.7 L997.7,1917.9 L999.6,1918.0 L1001.5,1918.1 L1003.5,1918.2 L1005.4,1918.3 L1007.4,1918.4 L1009.3,1918.5 L1011.3,1918.6 L1013.2,1918.7 L1015.2,1918.8 L1017.2,1918.9 L1019.2,1919.0 L1021.1,1919.1 L1023.1,1919.2 L1025.1,1919.3 L1027.1,1919.4 L1029.2,1919.5 L1031.2,1919.6 L1033.2,1919.7 L1035.2,1919.7 L1037.3,1919.8 L1039.3,1919.9 L1041.4,1920.0 L1043.4,1920.1 L1045.5,1920.2 L1047.5,1920.3 L1049.6,1920.4 L1051.7,1920.5 L1053.8,1920.6 L1055.9,1920.7 L1058.0,1920.8 L1060.1,1920.9 L1062.2,1921.0 L1064.3,1921.1 L1066.4,1921.2 L1068.5,1921.3 L1070.7,1921.4 L1072.8,1921.4 L1075.0,1921.5 L1077.1,1921.6 L1079.3,1921.7 L1081.4,1921.8 L1083.6,1921.9 L1085.8,1922.0 L1088.0,1922.1 L1090.2,1922.2 L1092.4,1922.3 L1094.6,1922.4 L1096.8,1922.4 L1099.0,1922.5 L1101.2,1922.6 L1103.5,1922.7 L1105.7,1922.8 L1108.0,1922.9 L1110.2,1923.0 L1112.5,1923.1 L1114.7,1923.1 L1117.0,1923.2 L1119.3,1923.3 L1121.6,1923.4 L1123.9,1923.5 L1126.2,1923.6 L1128.5,1923.7 L1130.8,1923.7 L1133.1,1923.8 L1135.4,1923.9 L1137.8,1924.0 L1140.1,1924.1 L1142.5,1924.2 L1144.8,1924.3 L1147.2,1924.3 L1149.6,1924.4 L1151.9,1924.5 L1154.3,1924.6 L1156.7,1924.7 L1159.1,1924.8 L1161.5,1924.8 L1163.9,1924.9 L1166.3,1925.0 L1168.8,1925.1 L1171.2,1925.2 L1173.6,1925.2 L1176.1,1925.3 L1178.5,1925.4 L1181.0,1925.5 L1183.5,1925.6 L1186.0,1925.6 L1188.4,1925.7 L1190.9,1925.8 L1193.4,1925.9 L1195.9,1926.0 L1198.5,1926.0 L1201.0,1926.1 L1203.5,1926.2 L1206.1,1926.3 L1208.6,1926.3 L1211.2,1926.4 L1213.7,1926.5 L1216.3,1926.6 L1218.9,1926.7 L1221.4,1926.7 L1224.0,1926.8 L1226.6,1926.9 L1229.2,1927.0 L1231.9,1927.0 L1234.5,1927.1 L1237.1,1927.2 L1239.7,1927.3 L1242.4,1927.3 L1245.0,1927.4 L1247.7,1927.5 L1250.4,1927.6 L1253.1,1927.6 L1255.7,1927.7 L1258.4,1927.8 L1261.1,1927.8 L1263.8,1927.9 L1266.6,1928.0 L1269.3,1928.1 L1272.0,1928.1 L1274.8,1928.2 L1277.5,1928.3 L1280.3,1928.3 L1283.0,1928.4 L1285.8,1928.5 L1288.6,1928.6 L1291.4,1928.6 L1294.2,1928.7 L1297.0,1928.8 L1299.8,1928.8 L1302.6,1928.9 L1305.5,1929.0 L1308.3,1929.1 L1311.2,1929.1 L1314.0,1929.2 L1316.9,1929.3 L1319.8,1929.3 L1322.7,1929.4 L1325.5,1929.5 L1328.4,1929.5 L1331.4,1929.6 L1334.3,1929.7 L1337.2,1929.7 L1340.1,1929.8 L1343.1,1929.9 L1346.0,1929.9 L1349.0,1930.0 L1352.0,1930.1 L1355.0,1930.1 L1357.9,1930.2 L1360.9,1930.3 L1364.0,1930.3 L1367.0,1930.4 L1370.0,1930.5 L1373.0,1930.5 L1376.1,1930.6 L1379.1,1930.7 L1382.2,1930.7 L1385.3,1930.8 L1388.3,1930.8 L1391.4,1930.9 L1394.5,1931.0 L1397.6,1931.0 L1400.7,1931.1 L1403.9,1931.2 L1407.0,1931.2 L1410.2,1931.3 L1413.3,1931.4 L1416.5,1931.4 L1419.6,1931.5 L1422.8,1931.5 L1426.0,1931.6 L1429.2,1931.7 L1432.4,1931.7 L1435.7,1931.8 L1438.9,1931.8 L1442.1,1931.9 L1445.4,1932.0 L1448.6,1932.0 L1451.9,1932.1 L1455.2,1932.2 L1458.5,1932.2 L1461.8,1932.3 L1465.1,1932.3 L1468.4,1932.4 L1471.7,1932.4 L1475.1,1932.5 L1478.4,1932.6 L1481.8,1932.6 L1485.1,1932.7 L1488.5,1932.7 L1491.9,1932.8 L1495.3,1932.9 L1498.7,1932.9 L1502.1,1933.0 L1505.6,1933.0 L1509.0,1933.1 L1512.4,1933.1 L1515.9,1933.2 L1519.4,1933.3 L1522.9,1933.3 L1526.3,1933.4 L1529.8,1933.4 L1533.4,1933.5 L1536.9,1933.5 L1540.4,1933.6 L1544.0,1933.7 L1547.5,1933.7 L1551.1,1933.8 L1554.7,1933.8 L1558.2,1933.9 L1561.8,1933.9 L1565.4,1934.0 L1569.1,1934.0 L1572.7,1934.1 L1576.3,1934.1 L1580.0,1934.2 L1583.6,1934.3 L1587.3,1934.3 L1591.0,1934.4 L1594.7,1934.4 L1598.4,1934.5 L1602.1,1934.5 L1605.8,1934.6 L1609.6,1934.6 L1613.3,1934.7 L1617.1,1934.7 L1620.9,1934.8 L1624.6,1934.8 L1628.4,1934.9 L1632.2,1934.9 L1636.1,1935.0 L1639.9,1935.0 L1643.7,1935.1 L1647.6,1935.1 L1651.4,1935.2 L1655.3,1935.2 L1659.2,1935.3 L1663.1,1935.3 L1667.0,1935.4 L1670.9,1935.4 L1674.9,1935.5 L1678.8,1935.5 L1682.8,1935.6 L1686.7,1935.6 L1690.7,1935.7 L1694.7,1935.7 L1698.7,1935.8 L1702.7,1935.8 L1706.7,1935.9 L1710.8,1935.9 L1714.8,1936.0 L1718.9,1936.0 L1723.0,1936.1 L1727.1,1936.1 L1731.2,1936.2 L1735.3,1936.2 L1739.4,1936.3 L1743.5,1936.3 L1747.7,1936.4 L1751.8,1936.4 L1756.0,1936.5 L1760.2,1936.5 L1764.4,1936.6 L1768.6,1936.6 L1772.8,1936.7 L1777.1,1936.7 L1781.3,1936.8 L1785.6,1936.8 L1789.9,1936.8 L1794.1,1936.9 L1798.4,1936.9 L1802.8,1937.0 L1807.1,1937.0 L1811.4,1937.1 L1815.8,1937.1 L1820.1,1937.2 L1824.5,1937.2 L1828.9,1937.3 L1833.3,1937.3 L1837.7,1937.3 L1842.2,1937.4 L1846.6,1937.4 L1851.1,1937.5 L1855.5,1937.5 L1860.0,1937.6 L1864.5,1937.6 L1869.0,1937.7 L1873.5,1937.7 L1878.1,1937.7 L1882.6,1937.8 L1887.2,1937.8 L1891.8,1937.9 L1896.4,1937.9 L1901.0,1938.0 L1905.6,1938.0 L1910.2,1938.0 L1914.9,1938.1 L1919.5,1938.1 L1924.2,1938.2 L1928.9,1938.2 L1933.6,1938.2 L1938.3,1938.3 L1943.0,1938.3 L1947.8,1938.4 L1952.5,1938.4 L1957.3,1938.5 L1962.1,1938.5 L1966.9,1938.5 L1971.7,1938.6 L1976.5,1938.6 L1981.4,1938.7 L1986.2,1938.7 L1991.1,1938.7 L1996.0,1938.8 L2000.9,1938.8 L2005.8,1938.9 L2010.8,1938.9 L2015.7,1938.9 L2020.7,1939.0 L2025.6,1939.0 L2030.6,1939.1 L2035.6,1939.1 L2040.7,1939.1 L2045.7,1939.2 L2050.7,1939.2 L2055.8,1939.3 L2060.9,1939.3 L2066.0,1939.3 L2071.1,1939.4 L2076.2,1939.4 L2081.4,1939.5 L2086.5,1939.5 L2091.7,1939.5 L2096.9,1939.6 L2102.1,1939.6 L2107.3,1939.6 L2112.5,1939.7 L2117.8,1939.7 L2123.1,1939.8 L2128.3,1939.8 L2133.6,1939.8 L2139.0,1939.9 L2144.3,1939.9 L2149.6,1939.9 L2155.0,1940.0 L2160.4,1940.0 L2165.8,1940.0 L2171.2,1940.1 L2176.6,1940.1 L2182.0,1940.2 L2187.5,1940.2 L2193.0,1940.2 L2198.5,1940.3 L2204.0,1940.3 L2209.5,1940.3 L2215.0,1940.4 L2220.6,1940.4 L2226.2,1940.4 L2231.7,1940.5 L2237.3,1940.5 L2243.0,1940.5 L2248.6,1940.6 L2254.3,1940.6 L2259.9,1940.7 L2265.6,1940.7 L2271.3,1940.7 L2277.1,1940.8 L2282.8,1940.8 L2288.6,1940.8 L2294.3,1940.9 L2300.1,1940.9 L2305.9,1940.9 L2311.8,1941.0 L2317.6,1941.0 L2323.5,1941.0 L2329.3,1941.1 L2335.2,1941.1 L2341.2,1941.1 L2347.1,1941.2 L2353.0,1941.2 L2359.0,1941.2 L2365.0,1941.3 L2371.0,1941.3 L2377.0,1941.3 L2383.1,1941.4 L2389.1,1941.4 L2395.2,1941.4 L2401.3,1941.5 L2407.4,1941.5 L2413.5,1941.5 L2419.7,1941.6 L2425.8,1941.6 L2432.0,1941.6 L2438.2,1941.6 L2444.5,1941.7 L2450.7,1941.7 L2456.9,1941.7 L2463.2,1941.8 L2469.5,1941.8" stroke="#ff0000" stroke-width="8.3" stroke-dasharray="0.0 0.1 34.0 34.5 34.0 34.5 34.0 34.5 34.0 34.5 34.0 34.5 34.0 34.5 34.0 34.6 34.1 34.6 34.2 34.7 34.3 35.1 34.9 36.0 36.3 38.0 38.5 39.8 39.7 40.6 40.2 40.9 40.4 41.0 40.4 41.0 40.4 41.1 40.5 41.1 40.5 41.1 40.5 41.1 40.5 41.1 40.5 41.1 40.5 41.1 40.5 41.1 40.5 41.1 40.5 41.1 40.5 41.1 40.5 41.1 40.5 41.1 40.5 41.1 40.5 41.1 40.5 41.1 40.5 41.1 40.5 41.1 40.5 5000.0"/>
<path transform="scale(0.84,1)" d="M363.1,963.6 L363.1,967.2 L363.1,970.8 L363.2,974.4 L363.2,977.9 L363.3,981.5 L363.3,985.0 L363.3,988.5 L363.4,992.0 L363.4,995.5 L363.4,999.0 L363.5,1002.5 L363.5,1005.9 L363.6,1009.3 L363.6,1012.8 L363.6,1016.2 L363.7,1019.6 L363.7,1023.0 L363.7,1026.3 L363.8,1029.7 L363.8,1033.0 L363.9,1036.4 L363.9,1039.7 L363.9,1043.0 L364.0,1046.3 L364.0,1049.6 L364.1,1052.9 L364.1,1056.1 L364.1,1059.4 L364.2,1062.6 L364.2,1065.8 L364.3,1069.0 L364.3,1072.2 L364.3,1075.4 L364.4,1078.6 L364.4,1081.7 L364.5,1084.9 L364.5,1088.0 L364.5,1091.2 L364.6,1094.3 L364.6,1097.4 L364.7,1100.5 L364.7,1103.6 L364.7,1106.6 L364.8,1109.7 L364.8,1112.7 L364.9,1115.8 L364.9,1118.8 L365.0,1121.8 L365.0,1124.8 L365.0,1127.8 L365.1,1130.8 L365.1,1133.7 L365.2,1136.7 L365.2,1139.6 L365.3,1142.6 L365.3,1145.5 L365.3,1148.4 L365.4,1151.3 L365.4,1154.2 L365.5,1157.1 L365.5,1160.0 L365.6,1162.8 L365.6,1165.7 L365.7,1168.5 L365.7,1171.3 L365.7,1174.2 L365.8,1177.0 L365.8,1179.8 L365.9,1182.5 L365.9,1185.3 L366.0,1188.1 L366.0,1190.8 L366.1,1193.6 L366.1,1196.3 L366.2,1199.0 L366.2,1201.8 L366.3,1204.5 L366.3,1207.2 L366.4,1209.8 L366.4,1212.5 L366.5,1215.2 L366.5,1217.8 L366.5,1220.5 L366.6,1223.1 L366.6,1225.7 L366.7,1228.4 L366.7,1231.0 L366.8,1233.6 L366.8,1236.1 L366.9,1238.7 L366.9,1241.3 L367.0,1243.8 L367.0,1246.4 L367.1,1248.9 L367.1,1251.5 L367.2,1254.0 L367.2,1256.5 L367.3,1259.0 L367.3,1261.5 L367.4,1264.0 L367.4,1266.5 L367.5,1268.9 L367.5,1271.4 L367.6,1273.8 L367.7,1276.3 L367.7,1278.7 L367.8,1281.1 L367.8,1283.5 L367.9,1285.9 L367.9,1288.3 L368.0,1290.7 L368.0,1293.1 L368.1,1295.5 L368.1,1297.8 L368.2,1300.2 L368.2,1302.5 L368.3,1304.8 L368.3,1307.2 L368.4,1309.5 L368.5,1311.8 L368.5,1314.1 L368.6,1316.4 L368.6,1318.7 L368.7,1320.9 L368.7,1323.2 L368.8,1325.5 L368.9,1327.7 L368.9,1330.0 L369.0,1332.2 L369.0,1334.4 L369.1,1336.6 L369.1,1338.8 L369.2,1341.1 L369.3,1343.2 L369.3,1345.4 L369.4,1347.6 L369.4,1349.8 L369.5,1351.9 L369.5,1354.1 L369.6,1356.2 L369.7,1358.4 L369.7,1360.5 L369.8,1362.6 L369.8,1364.7 L369.9,1366.8 L370.0,1368.9 L370.0,1371.0 L370.1,1373.1 L370.1,1375.2 L370.2,1377.3 L370.3,1379.3 L370.3,1381.4 L370.4,1383.4 L370.5,1385.5 L370.5,1387.5 L370.6,1389.5 L370.6,1391.5 L370.7,1393.5 L370.8,1395.5 L370.8,1397.5 L370.9,1399.5 L371.0,1401.5 L371.0,1403.5 L371.1,1405.4 L371.2,1407.4 L371.2,1409.4 L371.3,1411.3 L371.3,1413.2 L371.4,1415.2 L371.5,1417.1 L371.5,1419.0 L371.6,1420.9 L371.7,1422.8 L371.7,1424.7 L371.8,1426.6 L371.9,1428.5 L371.9,1430.4 L372.0,1432.2 L372.1,1434.1 L372.2,1435.9 L372.2,1437.8 L372.3,1439.6 L372.4,1441.5 L372.4,1443.3 L372.5,1445.1 L372.6,1446.9 L372.6,1448.7 L372.7,1450.5 L372.8,1452.3 L372.8,1454.1 L372.9,1455.9 L373.0,1457.7 L373.1,1459.5 L373.1,1461.2 L373.2,1463.0 L373.3,1464.7 L373.3,1466.5 L373.4,1468.2 L373.5,1469.9 L373.6,1471.7 L373.6,1473.4 L373.7,1475.1 L373.8,1476.8 L373.9,1478.5 L373.9,1480.2 L374.0,1481.9 L374.1,1483.6 L374.2,1485.2 L374.2,1486.9 L374.3,1488.6 L374.4,1490.2 L374.5,1491.9 L374.5,1493.5 L374.6,1495.2 L374.7,1496.8 L374.8,1498.4 L374.9,1500.1 L374.9,1501.7 L375.0,1503.3 L375.1,1504.9 L375.2,1506.5 L375.2,1508.1 L375.3,1509.7 L375.4,1511.2 L375.5,1512.8 L375.6,1514.4 L375.6,1516.0 L375.7,1517.5 L375.8,1519.1 L375.9,1520.6 L376.0,1522.2 L376.1,1523.7 L376.1,1525.2 L376.2,1526.8 L376.3,1528.3 L376.4,1529.8 L376.5,1531.3 L376.6,1532.8 L376.6,1534.3 L376.7,1535.8 L376.8,1537.3 L376.9,1538.8 L377.0,1540.2 L377.1,1541.7 L377.1,1543.2 L377.2,1544.6 L377.3,1546.1 L377.4,1547.5 L377.5,1549.0 L377.6,1550.4 L377.7,1551.9 L377.8,1553.3 L377.8,1554.7 L377.9,1556.1 L378.0,1557.6 L378.1,1559.0 L378.2,1560.4 L378.3,1561.8 L378.4,1563.2 L378.5,1564.5 L378.6,1565.9 L378.7,1567.3 L378.7,1568.7 L378.8,1570.1 L378.9,1571.4 L379.0,1572.8 L379.1,1574.1 L379.2,1575.5 L379.3,1576.8 L379.4,1578.2 L379.5,1579.5 L379.6,1580.8 L379.7,1582.2 L379.8,1583.5 L379.9,1584.8 L380.0,1586.1 L380.1,1587.4 L380.2,1588.7 L380.3,1590.0 L380.4,1591.3 L380.5,1592.6 L380.6,1593.9 L380.7,1595.2 L380.8,1596.4 L380.9,1597.7 L381.0,1599.0 L381.1,1600.2 L381.2,1601.5 L381.3,1602.7 L381.4,1604.0 L381.5,1605.2 L381.6,1606.5 L381.7,1607.7 L381.8,1608.9 L381.9,1610.1 L382.0,1611.4 L382.1,1612.6 L382.2,1613.8 L382.3,1615.0 L382.4,1616.2 L382.5,1617.4 L382.6,1618.6 L382.7,1619.8 L382.8,1621.0 L382.9,1622.2 L383.0,1623.3 L383.1,1624.5 L383.2,1625.7 L383.3,1626.8 L383.4,1628.0 L383.6,1629.2 L383.7,1630.3 L383.8,1631.5 L383.9,1632.6 L384.0,1633.7 L384.1,1634.9 L384.2,1636.0 L384.3,1637.1 L384.4,1638.3 L384.6,1639.4 L384.7,1640.5 L384.8,1641.6 L384.9,1642.7 L385.0,1643.8 L385.1,1644.9 L385.2,1646.0 L385.4,1647.1 L385.5,1648.2 L385.6,1649.3 L385.7,1650.4 L385.8,1651.4 L385.9,1652.5 L386.1,1653.6 L386.2,1654.6 L386.3,1655.7 L386.4,1656.8 L386.5,1657.8 L386.6,1658.9 L386.8,1659.9 L386.9,1660.9 L387.0,1662.0 L387.1,1663.0 L387.3,1664.1 L387.4,1665.1 L387.5,1666.1 L387.6,1667.1 L387.7,1668.1 L387.9,1669.2 L388.0,1670.2 L388.1,1671.2 L388.2,1672.2 L388.4,1673.2 L388.5,1674.2 L388.6,1675.2 L388.7,1676.1 L388.9,1677.1 L389.0,1678.1 L389.1,1679.1 L389.3,1680.1 L389.4,1681.0 L389.5,1682.0 L389.7,1683.0 L389.8,1683.9 L389.9,1684.9 L390.0,1685.8 L390.2,1686.8 L390.3,1687.7 L390.4,1688.7 L390.6,1689.6 L390.7,1690.5 L390.8,1691.5 L391.0,1692.4 L391.1,1693.3 L391.3,1694.2 L391.4,1695.2 L391.5,1696.1 L391.7,1697.0 L391.8,1697.9 L391.9,1698.8 L392.1,1699.7 L392.2,1700.6 L392.4,1701.5 L392.5,1702.4 L392.6,1703.3 L392.8,1704.2 L392.9,1705.1 L393.1,1705.9 L393.2,1706.8 L393.4,1707.7 L393.5,1708.6 L393.6,1709.4 L393.8,1710.3 L393.9,1711.2 L394.1,1712.0 L394.2,1712.9 L394.4,1713.7 L394.5,1714.6 L394.7,1715.4 L394.8,1716.3 L395.0,1717.1 L395.1,1718.0 L395.3,1718.8 L395.4,1719.6 L395.6,1720.4 L395.7,1721.3 L395.9,1722.1 L396.0,1722.9 L396.2,1723.7 L396.3,1724.5 L396.5,1725.4 L396.7,1726.2 L396.8,1727.0 L397.0,1727.8 L397.1,1728.6 L397.3,1729.4 L397.4,1730.2 L397.6,1731.0 L397.8,1731.7 L397.9,1732.5 L398.1,1733.3 L398.2,1734.1 L398.4,1734.9 L398.6,1735.6 L398.7,1736.4 L398.9,1737.2 L399.0,1738.0 L399.2,1738.7 L399.4,1739.5 L399.5,1740.2 L399.7,1741.0 L399.9,1741.7 L400.0,1742.5 L400.2,1743.2 L400.4,1744.0 L400.6,1744.7 L400.7,1745.5 L400.9,1746.2 L401.1,1746.9 L401.2,1747.7 L401.4,1748.4 L401.6,1749.1 L401.8,1749.8 L401.9,1750.6 L402.1,1751.3 L402.3,1752.0 L402.5,1752.7 L402.6,1753.4 L402.8,1754.1 L403.0,1754.8 L403.2,1755.5 L403.3,1756.2 L403.5,1756.9 L403.7,1757.6 L403.9,1758.3 L404.1,1759.0 L404.2,1759.7 L404.4,1760.4 L404.6,1761.1 L404.8,1761.8 L405.0,1762.4 L405.2,1763.1 L405.4,1763.8 L405.5,1764.5 L405.7,1765.1 L405.9,1765.8 L406.1,1766.5 L406.3,1767.1 L406.5,1767.8 L406.7,1768.4 L406.9,1769.1 L407.1,1769.7 L407.3,1770.4 L407.4,1771.0 L407.6,1771.7 L407.8,1772.3 L408.0,1773.0 L408.2,1773.6 L408.4,1774.2 L408.6,1774.9 L408.8,1775.5 L409.0,1776.1 L409.2,1776.8 L409.4,1777.4 L409.6,1778.0 L409.8,1778.6 L410.0,1779.2 L410.2,1779.9 L410.4,1780.5 L410.6,1781.1 L410.9,1781.7 L411.1,1782.3 L411.3,1782.9 L411.5,1783.5 L411.7,1784.1 L411.9,1784.7 L412.1,1785.3 L412.3,1785.9 L412.5,1786.5 L412.7,1787.1 L413.0,1787.7 L413.2,1788.3 L413.4,1788.8 L413.6,1789.4 L413.8,1790.0 L414.0,1790.6 L414.2,1791.2 L414.5,1791.7 L414.7,1792.3 L414.9,1792.9 L415.1,1793.4 L415.3,1794.0 L415.6,1794.6 L415.8,1795.1 L416.0,1795.7 L416.2,1796.2 L416.5,1796.8 L416.7,1797.4 L416.9,1797.9 L417.2,1798.5 L417.4,1799.0 L417.6,1799.5 L417.8,1800.1 L418.1,1800.6 L418.3,1801.2 L418.5,1801.7 L418.8,1802.2 L419.0,1802.8 L419.2,1803.3 L419.5,1803.8 L419.7,1804.4 L420.0,1804.9 L420.2,1805.4 L420.4,1805.9 L420.7,1806.5 L420.9,1807.0 L421.2,1807.5 L421.4,1808.0 L421.6,1808.5 L421.9,1809.0 L422.1,1809.6 L422.4,1810.1 L422.6,1810.6 L422.9,1811.1 L423.1,1811.6 L423.4,1812.1 L423.6,1812.6 L423.9,1813.1 L424.1,1813.6 L424.4,1814.1 L424.6,1814.6 L424.9,1815.0 L425.2,1815.5 L425.4,1816.0 L425.7,1816.5 L425.9,1817.0 L426.2,1817.5 L426.5,1817.9 L426.7,1818.4 L427.0,1818.9 L427.2,1819.4 L427.5,1819.9 L427.8,1820.3 L428.0,1820.8 L428.3,1821.3 L428.6,1821.7 L428.9,1822.2 L429.1,1822.7 L429.4,1823.1 L429.7,1823.6 L429.9,1824.0 L430.2,1824.5 L430.5,1824.9 L430.8,1825.4 L431.0,1825.8 L431.3,1826.3 L431.6,1826.7 L431.9,1827.2 L432.2,1827.6 L432.5,1828.1 L432.7,1828.5 L433.0,1829.0 L433.3,1829.4 L433.6,1829.8 L433.9,1830.3 L434.2,1830.7 L434.5,1831.1 L434.8,1831.6 L435.0,1832.0 L435.3,1832.4 L435.6,1832.9 L435.9,1833.3 L436.2,1833.7 L436.5,1834.1 L436.8,1834.6 L437.1,1835.0 L437.4,1835.4 L437.7,1835.8 L438.0,1836.2 L438.3,1836.6 L438.6,1837.0 L438.9,1837.5 L439.2,1837.9 L439.5,1838.3 L439.9,1838.7 L440.2,1839.1 L440.5,1839.5 L440.8,1839.9 L441.1,1840.3 L441.4,1840.7 L441.7,1841.1 L442.1,1841.5 L442.4,1841.9 L442.7,1842.3 L443.0,1842.7 L443.3,1843.0 L443.7,1843.4 L444.0,1843.8 L444.3,1844.2 L444.6,1844.6 L445.0,1845.0 L445.3,1845.4 L445.6,1845.7 L445.9,1846.1 L446.3,1846.5 L446.6,1846.9 L446.9,1847.2 L447.3,1847.6 L447.6,1848.0 L448.0,1848.4 L448.3,1848.7 L448.6,1849.1 L449.0,1849.5 L449.3,1849.8 L449.7,1850.2 L450.0,1850.6 L450.4,1850.9 L450.7,1851.3 L451.0,1851.6 L451.4,1852.0 L451.8,1852.4 L452.1,1852.7 L452.5,1853.1 L452.8,1853.4 L453.2,1853.8 L453.5,1854.1 L453.9,1854.5 L454.2,1854.8 L454.6,1855.2 L455.0,1855.5 L455.3,1855.9 L455.7,1856.2 L456.1,1856.5 L456.4,1856.9 L456.8,1857.2 L457.2,1857.6 L457.5,1857.9 L457.9,1858.2 L458.3,1858.6 L458.7,1858.9 L459.0,1859.2 L459.4,1859.6 L459.8,1859.9 L460.2,1860.2 L460.6,1860.6 L461.0,1860.9 L461.3,1861.2 L461.7,1861.5 L462.1,1861.9 L462.5,1862.2 L462.9,1862.5 L463.3,1862.8 L463.7,1863.1 L464.1,1863.4 L464.5,1863.8 L464.9,1864.1 L465.3,1864.4 L465.7,1864.7 L466.1,1865.0 L466.5,1865.3 L466.9,1865.6 L467.3,1865.9 L467.7,1866.3 L468.1,1866.6 L468.5,1866.9 L468.9,1867.2 L469.3,1867.5 L469.8,1867.8 L470.2,1868.1 L470.6,1868.4 L471.0,1868.7 L471.4,1869.0 L471.9,1869.3 L472.3,1869.6 L472.7,1869.9 L473.1,1870.1 L473.6,1870.4 L474.0,1870.7 L474.4,1871.0 L474.9,1871.3 L475.3,1871.6 L475.7,1871.9 L476.2,1872.2 L476.6,1872.5 L477.1,1872.7 L477.5,1873.0 L477.9,1873.3 L478.4,1873.6 L478.8,1873.9 L479.3,1874.1 L479.7,1874.4 L480.2,1874.7 L480.6,1875.0 L481.1,1875.3 L481.6,1875.5 L482.0,1875.8 L482.5,1876.1 L482.9,1876.3 L483.4,1876.6 L483.9,1876.9 L484.3,1877.2 L484.8,1877.4 L485.3,1877.7 L485.7,1878.0 L486.2,1878.2 L486.7,1878.5 L487.2,1878.7 L487.7,1879.0 L488.1,1879.3 L488.6,1879.5 L489.1,1879.8 L489.6,1880.0 L490.1,1880.3 L490.6,1880.6 L491.1,1880.8 L491.5,1881.1 L492.0,1881.3 L492.5,1881.6 L493.0,1881.8 L493.5,1882.1 L494.0,1882.3 L494.5,1882.6 L495.0,1882.8 L495.6,1883.1 L496.1,1883.3 L496.6,1883.6 L497.1,1883.8 L497.6,1884.0 L498.1,1884.3 L498.6,1884.5 L499.2,1884.8 L499.7,1885.0 L500.2,1885.3 L500.7,1885.5 L501.3,1885.7 L501.8,1886.0 L502.3,1886.2 L502.8,1886.4 L503.4,1886.7 L503.9,1886.9 L504.5,1887.1 L505.0,1887.4 L505.5,1887.6 L506.1,1887.8 L506.6,1888.1 L507.2,1888.3 L507.7,1888.5 L508.3,1888.7 L508.8,1889.0 L509.4,1889.2 L510.0,1889.4 L510.5,1889.6 L511.1,1889.9 L511.6,1890.1 L512.2,1890.3 L512.8,1890.5 L513.3,1890.7 L513.9,1891.0 L514.5,1891.2 L515.1,1891.4 L515.6,1891.6 L516.2,1891.8 L516.8,1892.1 L517.4,1892.3 L518.0,1892.5 L518.6,1892.7 L519.2,1892.9 L519.8,1893.1 L520.4,1893.3 L521.0,1893.5 L521.6,1893.7 L522.2,1894.0 L522.8,1894.2 L523.4,1894.4 L524.0,1894.6 L524.6,1894.8 L525.2,1895.0 L525.8,1895.2 L526.4,1895.4 L527.0,1895.6 L527.7,1895.8 L528.3,1896.0 L528.9,1896.2 L529.5,1896.4 L530.2,1896.6 L530.8,1896.8 L531.4,1897.0 L532.1,1897.2 L532.7,1897.4 L533.4,1897.6 L534.0,1897.8 L534.7,1898.0 L535.3,1898.2 L535.9,1898.4 L536.6,1898.5 L537.3,1898.7 L537.9,1898.9 L538.6,1899.1 L539.2,1899.3 L539.9,1899.5 L540.6,1899.7 L541.2,1899.9 L541.9,1900.1 L542.6,1900.2 L543.3,1900.4 L543.9,1900.6 L544.6,1900.8 L545.3,1901.0 L546.0,1901.2 L546.7,1901.3 L547.4,1901.5 L548.1,1901.7 L548.8,1901.9 L549.5,1902.1 L550.2,1902.2 L550.9,1902.4 L551.6,1902.6 L552.3,1902.8 L553.0,1903.0 L553.7,1903.1 L554.4,1903.3 L555.1,1903.5 L555.9,1903.7 L556.6,1903.8 L557.3,1904.0 L558.1,1904.2 L558.8,1904.3 L559.5,1904.5 L560.3,1904.7 L561.0,1904.8 L561.7,1905.0 L562.5,1905.2 L563.2,1905.4 L564.0,1905.5 L564.7,1905.7 L565.5,1905.9 L566.3,1906.0 L567.0,1906.2 L567.8,1906.3 L568.5,1906.5 L569.3,1906.7 L570.1,1906.8 L570.9,1907.0 L571.6,1907.2 L572.4,1907.3 L573.2,1907.5 L574.0,1907.6 L574.8,1907.8 L575.6,1908.0 L576.4,1908.1 L577.2,1908.3 L578.0,1908.4 L578.8,1908.6 L579.6,1908.7 L580.4,1908.9 L581.2,1909.0 L582.0,1909.2 L582.8,1909.4 L583.6,1909.5 L584.5,1909.7 L585.3,1909.8 L586.1,1910.0 L587.0,1910.1 L587.8,1910.3 L588.6,1910.4 L589.5,1910.6 L590.3,1910.7 L591.2,1910.9 L592.0,1911.0 L592.9,1911.2 L593.7,1911.3 L594.6,1911.4 L595.4,1911.6 L596.3,1911.7 L597.2,1911.9 L598.0,1912.0 L598.9,1912.2 L599.8,1912.3 L600.7,1912.5 L601.6,1912.6 L602.5,1912.7 L603.3,1912.9 L604.2,1913.0 L605.1,1913.2 L606.0,1913.3 L606.9,1913.4 L607.8,1913.6 L608.8,1913.7 L609.7,1913.8 L610.6,1914.0 L611.5,1914.1 L612.4,1914.3 L613.4,1914.4 L614.3,1914.5 L615.2,1914.7 L616.2,1914.8 L617.1,1914.9 L618.0,1915.1 L619.0,1915.2 L619.9,1915.3 L620.9,1915.5 L621.8,1915.6 L622.8,1915.7 L623.8,1915.8 L624.7,1916.0 L625.7,1916.1 L626.7,1916.2 L627.7,1916.4 L628.6,1916.5 L629.6,1916.6 L630.6,1916.7 L631.6,1916.9 L632.6,1917.0 L633.6,1917.1 L634.6,1917.2 L635.6,1917.4 L636.6,1917.5 L637.6,1917.6 L638.6,1917.7 L639.7,1917.9 L640.7,1918.0 L641.7,1918.1 L642.7,1918.2 L643.8,1918.4 L644.8,1918.5 L645.8,1918.6 L646.9,1918.7 L647.9,1918.8 L649.0,1919.0 L650.1,1919.1 L651.1,1919.2 L652.2,1919.3 L653.2,1919.4 L654.3,1919.5 L655.4,1919.7 L656.5,1919.8 L657.6,1919.9 L658.6,1920.0 L659.7,1920.1 L660.8,1920.2 L661.9,1920.4 L663.0,1920.5 L664.1,1920.6 L665.3,1920.7 L666.4,1920.8 L667.5,1920.9 L668.6,1921.0 L669.7,1921.1 L670.9,1921.2 L672.0,1921.4 L673.1,1921.5 L674.3,1921.6 L675.4,1921.7 L676.6,1921.8 L677.7,1921.9 L678.9,1922.0 L680.1,1922.1 L681.2,1922.2 L682.4,1922.3 L683.6,1922.4 L684.8,1922.5 L685.9,1922.7 L687.1,1922.8 L688.3,1922.9 L689.5,1923.0 L690.7,1923.1 L691.9,1923.2 L693.1,1923.3 L694.3,1923.4 L695.6,1923.5 L696.8,1923.6 L698.0,1923.7 L699.2,1923.8 L700.5,1923.9 L701.7,1924.0 L703.0,1924.1 L704.2,1924.2 L705.5,1924.3 L706.7,1924.4 L708.0,1924.5 L709.3,1924.6 L710.5,1924.7 L711.8,1924.8 L713.1,1924.9 L714.4,1925.0 L715.7,1925.1 L717.0,1925.2 L718.3,1925.3 L719.6,1925.4 L720.9,1925.5 L722.2,1925.6 L723.5,1925.7 L724.8,1925.8 L726.2,1925.9 L727.5,1925.9 L728.8,1926.0 L730.2,1926.1 L731.5,1926.2 L732.9,1926.3 L734.2,1926.4 L735.6,1926.5 L736.9,1926.6 L738.3,1926.7 L739.7,1926.8 L741.1,1926.9 L742.5,1927.0 L743.9,1927.0 L745.2,1927.1 L746.6,1927.2 L748.1,1927.3 L749.5,1927.4 L750.9,1927.5 L752.3,1927.6 L753.7,1927.7 L755.2,1927.8 L756.6,1927.8 L758.0,1927.9 L759.5,1928.0 L760.9,1928.1 L762.4,1928.2 L763.8,1928.3 L765.3,1928.4 L766.8,1928.4 L768.3,1928.5 L769.7,1928.6 L771.2,1928.7 L772.7,1928.8 L774.2,1928.9 L775.7,1929.0 L777.2,1929.0 L778.8,1929.1 L780.3,1929.2 L781.8,1929.3 L783.3,1929.4 L784.9,1929.4 L786.4,1929.5 L788.0,1929.6 L789.5,1929.7 L791.1,1929.8 L792.6,1929.8 L794.2,1929.9 L795.8,1930.0 L797.4,1930.1 L798.9,1930.2 L800.5,1930.2 L802.1,1930.3 L803.7,1930.4 L805.3,1930.5 L807.0,1930.6 L808.6,1930.6 L810.2,1930.7 L811.8,1930.8 L813.5,1930.9 L815.1,1930.9 L816.8,1931.0 L818.4,1931.1 L820.1,1931.2 L821.8,1931.2 L823.4,1931.3 L825.1,1931.4 L826.8,1931.5 L828.5,1931.5 L830.2,1931.6 L831.9,1931.7 L833.6,1931.8 L835.3,1931.8 L837.0,1931.9 L838.8,1932.0 L840.5,1932.1 L842.2,1932.1 L844.0,1932.2 L845.7,1932.3 L847.5,1932.3 L849.3,1932.4 L851.0,1932.5 L852.8,1932.6 L854.6,1932.6 L856.4,1932.7 L858.2,1932.8 L860.0,1932.8 L861.8,1932.9 L863.6,1933.0 L865.4,1933.0 L867.3,1933.1 L869.1,1933.2 L870.9,1933.2 L872.8,1933.3 L874.7,1933.4 L876.5,1933.4 L878.4,1933.5 L880.3,1933.6 L882.1,1933.6 L884.0,1933.7 L885.9,1933.8 L887.8,1933.8 L889.7,1933.9 L891.7,1934.0 L893.6,1934.0 L895.5,1934.1 L897.4,1934.2 L899.4,1934.2 L901.3,1934.3 L903.3,1934.4 L905.3,1934.4 L907.2,1934.5 L909.2,1934.6 L911.2,1934.6 L913.2,1934.7 L915.2,1934.7 L917.2,1934.8 L919.2,1934.9 L921.2,1934.9 L923.3,1935.0 L925.3,1935.1 L927.3,1935.1 L929.4,1935.2 L931.4,1935.2 L933.5,1935.3 L935.6,1935.4 L937.7,1935.4 L939.8,1935.5 L941.8,1935.5 L943.9,1935.6 L946.1,1935.7 L948.2,1935.7 L950.3,1935.8 L952.4,1935.8 L954.6,1935.9 L956.7,1936.0 L958.9,1936.0 L961.0,1936.1 L963.2,1936.1 L965.4,1936.2 L967.6,1936.2 L969.8,1936.3 L972.0,1936.4 L974.2,1936.4 L976.4,1936.5 L978.6,1936.5 L980.9,1936.6 L983.1,1936.6 L985.3,1936.7 L987.6,1936.7 L989.9,1936.8 L992.1,1936.9 L994.4,1936.9 L996.7,1937.0 L999.0,1937.0 L1001.3,1937.1 L1003.6,1937.1 L1006.0,1937.2 L1008.3,1937.2 L1010.6,1937.3 L1013.0,1937.3 L1015.3,1937.4 L1017.7,1937.5 L1020.1,1937.5 L1022.5,1937.6 L1024.8,1937.6 L1027.2,1937.7 L1029.6,1937.7 L1032.1,1937.8 L1034.5,1937.8 L1036.9,1937.9 L1039.4,1937.9 L1041.8,1938.0 L1044.3,1938.0 L1046.7,1938.1 L1049.2,1938.1 L1051.7,1938.2 L1054.2,1938.2 L1056.7,1938.3 L1059.2,1938.3 L1061.7,1938.4 L1064.3,1938.4 L1066.8,1938.5 L1069.4,1938.5 L1071.9,1938.6 L1074.5,1938.6 L1077.1,1938.7 L1079.6,1938.7 L1082.2,1938.8 L1084.8,1938.8 L1087.4,1938.9 L1090.1,1938.9 L1092.7,1939.0 L1095.3,1939.0 L1098.0,1939.1 L1100.7,1939.1 L1103.3,1939.1 L1106.0,1939.2 L1108.7,1939.2 L1111.4,1939.3 L1114.1,1939.3 L1116.8,1939.4 L1119.5,1939.4 L1122.3,1939.5 L1125.0,1939.5 L1127.8,1939.6 L1130.5,1939.6 L1133.3,1939.7 L1136.1,1939.7 L1138.9,1939.7 L1141.7,1939.8 L1144.5,1939.8 L1147.3,1939.9 L1150.2,1939.9 L1153.0,1940.0 L1155.9,1940.0 L1158.8,1940.1 L1161.6,1940.1 L1164.5,1940.1 L1167.4,1940.2 L1170.3,1940.2 L1173.2,1940.3 L1176.2,1940.3 L1179.1,1940.4 L1182.1,1940.4 L1185.0,1940.4 L1188.0,1940.5 L1191.0,1940.5 L1194.0,1940.6 L1197.0,1940.6 L1200.0,1940.6 L1203.0,1940.7 L1206.0,1940.7 L1209.1,1940.8 L1212.1,1940.8 L1215.2,1940.9 L1218.3,1940.9 L1221.4,1940.9 L1224.5,1941.0 L1227.6,1941.0 L1230.7,1941.1 L1233.8,1941.1 L1237.0,1941.1 L1240.1,1941.2 L1243.3,1941.2 L1246.5,1941.3 L1249.7,1941.3 L1252.9,1941.3 L1256.1,1941.4 L1259.3,1941.4 L1262.5,1941.4 L1265.8,1941.5 L1269.0,1941.5 L1272.3,1941.6 L1275.6,1941.6 L1278.9,1941.6 L1282.2,1941.7 L1285.5,1941.7 L1288.8,1941.8 L1292.2,1941.8 L1295.5,1941.8 L1298.9,1941.9 L1302.3,1941.9 L1305.7,1941.9 L1309.1,1942.0 L1312.5,1942.0 L1315.9,1942.0 L1319.3,1942.1 L1322.8,1942.1 L1326.3,1942.2 L1329.7,1942.2 L1333.2,1942.2 L1336.7,1942.3 L1340.2,1942.3 L1343.8,1942.3 L1347.3,1942.4 L1350.8,1942.4 L1354.4,1942.4 L1358.0,1942.5 L1361.6,1942.5 L1365.2,1942.5 L1368.8,1942.6 L1372.4,1942.6 L1376.0,1942.7 L1379.7,1942.7 L1383.4,1942.7 L1387.0,1942.8 L1390.7,1942.8 L1394.4,1942.8 L1398.2,1942.9 L1401.9,1942.9 L1405.6,1942.9 L1409.4,1943.0 L1413.2,1943.0 L1416.9,1943.0 L1420.7,1943.1 L1424.6,1943.1 L1428.4,1943.1 L1432.2,1943.2 L1436.1,1943.2 L1439.9,1943.2 L1443.8,1943.3 L1447.7,1943.3 L1451.6,1943.3 L1455.5,1943.3 L1459.5,1943.4 L1463.4,1943.4 L1467.4,1943.4 L1471.4,1943.5 L1475.4,1943.5 L1479.4,1943.5 L1483.4,1943.6 L1487.4,1943.6 L1491.5,1943.6 L1495.5,1943.7 L1499.6,1943.7 L1503.7,1943.7 L1507.8,1943.8 L1512.0,1943.8 L1516.1,1943.8 L1520.2,1943.8 L1524.4,1943.9 L1528.6,1943.9 L1532.8,1943.9 L1537.0,1944.0 L1541.2,1944.0 L1545.5,1944.0 L1549.7,1944.1 L1554.0,1944.1 L1558.3,1944.1 L1562.6,1944.1 L1566.9,1944.2 L1571.2,1944.2 L1575.6,1944.2 L1580.0,1944.3 L1584.3,1944.3 L1588.7,1944.3 L1593.1,1944.3 L1597.6,1944.4 L1602.0,1944.4 L1606.5,1944.4 L1610.9,1944.5 L1615.4,1944.5 L1619.9,1944.5 L1624.5,1944.5 L1629.0,1944.6 L1633.6,1944.6 L1638.1,1944.6 L1642.7,1944.6 L1647.3,1944.7 L1651.9,1944.7 L1656.6,1944.7 L1661.2,1944.8 L1665.9,1944.8 L1670.6,1944.8 L1675.3,1944.8 L1680.0,1944.9 L1684.8,1944.9 L1689.5,1944.9 L1694.3,1944.9 L1699.1,1945.0 L1703.9,1945.0 L1708.7,1945.0 L1713.5,1945.0 L1718.4,1945.1 L1723.3,1945.1 L1728.2,1945.1 L1733.1,1945.1 L1738.0,1945.2 L1742.9,1945.2 L1747.9,1945.2 L1752.9,1945.2 L1757.9,1945.3 L1762.9,1945.3 L1767.9,1945.3 L1773.0,1945.3 L1778.1,1945.4 L1783.1,1945.4 L1788.2,1945.4 L1793.4,1945.4 L1798.5,1945.5 L1803.7,1945.5 L1808.9,1945.5 L1814.0,1945.5 L1819.3,1945.6 L1824.5,1945.6 L1829.8,1945.6 L1835.0,1945.6 L1840.3,1945.7 L1845.6,1945.7 L1851.0,1945.7 L1856.3,1945.7 L1861.7,1945.8 L1867.1,1945.8 L1872.5,1945.8 L1877.9,1945.8 L1883.3,1945.9 L1888.8,1945.9 L1894.3,1945.9 L1899.8,1945.9 L1905.3,1945.9 L1910.8,1946.0 L1916.4,1946.0 L1922.0,1946.0 L1927.6,1946.0 L1933.2,1946.1 L1938.8,1946.1 L1944.5,1946.1 L1950.2,1946.1 L1955.9,1946.1 L1961.6,1946.2 L1967.4,1946.2 L1973.1,1946.2 L1978.9,1946.2 L1984.7,1946.3 L1990.5,1946.3 L1996.4,1946.3 L2002.2,1946.3 L2008.1,1946.3 L2014.0,1946.4 L2020.0,1946.4 L2025.9,1946.4 L2031.9,1946.4 L2037.9,1946.4 L2043.9,1946.5 L2049.9,1946.5 L2056.0,1946.5 L2062.1,1946.5 L2068.2,1946.5 L2074.3,1946.6 L2080.5,1946.6 L2086.6,1946.6 L2092.8,1946.6 L2099.0,1946.6 L2105.3,1946.7 L2111.5,1946.7 L2117.8,1946.7 L2124.1,1946.7 L2130.4,1946.7 L2136.8,1946.8 L2143.1,1946.8 L2149.5,1946.8 L2155.9,1946.8 L2162.4,1946.8 L2168.8,1946.9 L2175.3,1946.9 L2181.8,1946.9 L2188.3,1946.9 L2194.9,1946.9 L2201.5,1947.0 L2208.1,1947.0 L2214.7,1947.0 L2221.3,1947.0 L2228.0,1947.0 L2234.7,1947.1 L2241.4,1947.1 L2248.2,1947.1 L2254.9,1947.1 L2261.7,1947.1 L2268.5,1947.1 L2275.4,1947.2 L2282.2,1947.2 L2289.1,1947.2 L2296.0,1947.2 L2303.0,1947.2 L2309.9,1947.3 L2316.9,1947.3 L2323.9,1947.3 L2331.0,1947.3 L2338.0,1947.3 L2345.1,1947.3 L2352.2,1947.4 L2359.4,1947.4 L2366.5,1947.4 L2373.7,1947.4 L2380.9,1947.4 L2388.2,1947.5 L2395.4,1947.5 L2402.7,1947.5 L2410.0,1947.5 L2417.4,1947.5 L2424.7,1947.5 L2432.1,1947.6 L2439.6,1947.6 L2447.0,1947.6 L2454.5,1947.6 L2462.0,1947.6 L2469.5,1947.6" stroke="#000000" stroke-width="8.3" stroke-dasharray="0.0 56.3 28.3 40.1 29.6 38.8 29.5 38.8 29.6 37.4 31.0 36.2 32.2 35.9 32.2 37.5 30.9 37.6 31.0 37.6 31.1 36.4 32.7 37.3 30.0 32.9 28.9 36.6 29.1 34.2 28.3 35.9 29.2 32.4 46.4 38.4 29.0 36.8 29.0 40.0 36.8 39.9 33.7 14.9 38.3 40.0 36.7 33.7 30.6 43.0 38.3 43.2 71.1 44.8 36.5 44.8 36.8 44.6 38.3 43.1 47.7 44.6 36.8 36.8 36.8 44.6 36.7 44.8 55.2 46.4 35.1 46.3 36.7 44.8 35.1 46.1 44.8 49.3 34.4 5000.0"/>
</g>
<g fill="none">
<line x1="296.5" y1="1016.6" x2="296.5" y2="1954.8" stroke="#404040" stroke-width="6.6" />
<line x1="266.0" y1="1019.6" x2="2078.4" y2="1019.6" stroke="#404040" stroke-width="6.0" />
<line x1="2074.4" y1="1017.6" x2="2074.4" y2="1980.3" stroke="#080808" stroke-width="5.2" />
<line x1="266.0" y1="1952.3" x2="2077.0" y2="1952.3" stroke="#080808" stroke-width="5.4" />
<line x1="296.5" y1="1952.3" x2="296.5" y2="1980.3" stroke="#404040" stroke-width="5.6" />
<line x1="266.0" y1="1765.8" x2="296.5" y2="1765.8" stroke="#404040" stroke-width="5.2" />
<line x1="266.0" y1="1579.2" x2="296.5" y2="1579.2" stroke="#404040" stroke-width="5.2" />
<line x1="266.0" y1="1392.7" x2="296.5" y2="1392.7" stroke="#404040" stroke-width="5.2" />
<line x1="266.0" y1="1206.1" x2="296.5" y2="1206.1" stroke="#404040" stroke-width="5.2" />
<line x1="282.0" y1="1859.0" x2="296.5" y2="1859.0" stroke="#404040" stroke-width="4.6000000000000005" />
<line x1="282.0" y1="1672.5" x2="296.5" y2="1672.5" stroke="#404040" stroke-width="4.6000000000000005" />
<line x1="282.0" y1="1485.9" x2="296.5" y2="1485.9" stroke="#404040" stroke-width="4.6000000000000005" />
<line x1="282.0" y1="1299.4" x2="296.5" y2="1299.4" stroke="#404040" stroke-width="4.6000000000000005" />
<line x1="282.0" y1="1112.9" x2="296.5" y2="1112.9" stroke="#404040" stroke-width="4.6000000000000005" />
<line x1="652.1" y1="1952.3" x2="652.1" y2="1980.3" stroke="#404040" stroke-width="5.2" />
<line x1="1007.7" y1="1952.3" x2="1007.7" y2="1980.3" stroke="#404040" stroke-width="5.2" />
<line x1="1363.2" y1="1952.3" x2="1363.2" y2="1980.3" stroke="#404040" stroke-width="5.2" />
<line x1="1718.8" y1="1952.3" x2="1718.8" y2="1980.3" stroke="#404040" stroke-width="5.2" />
<line x1="474.3" y1="1952.3" x2="474.3" y2="1967.3" stroke="#404040" stroke-width="4.6000000000000005" />
<line x1="829.9" y1="1952.3" x2="829.9" y2="1967.3" stroke="#404040" stroke-width="4.6000000000000005" />
<line x1="1185.5" y1="1952.3" x2="1185.5" y2="1967.3" stroke="#404040" stroke-width="4.6000000000000005" />
<line x1="1541.0" y1="1952.3" x2="1541.0" y2="1967.3" stroke="#404040" stroke-width="4.6000000000000005" />
<line x1="1896.6" y1="1952.3" x2="1896.6" y2="1967.3" stroke="#404040" stroke-width="4.6000000000000005" />
</g>
<defs><clipPath id="one1"><path d="M4.9,-80 H64.9 V-10.5 H39.5 V3 H29.4 V-10.5 H4.9 Z"/></clipPath></defs>
<defs><clipPath id="one10"><path d="M4.9,-80 H64.9 V-10.5 H39.5 V3 H29.4 V-10.5 H4.9 Z M57.1,-80 H115.6 V6 H57.1 Z"/></clipPath></defs>
<rect x="655" y="1287" width="370" height="82" fill="#fff"/>
<rect x="515" y="1675" width="335" height="84" fill="#fff"/>
<g>
<line x1="1342.5" y1="1841.6" x2="1280.9" y2="1914.0" stroke="#ff2020" stroke-width="2.0" />
<path d="M1267.3,1930.0 L1282.0,1896.5 L1298.0,1910.1 Z" fill="#ff0000" stroke="none"/>
<line x1="1755.0" y1="1879.9" x2="1715.9" y2="1930.7" stroke="#505050" stroke-width="1.8" />
<path d="M1705.7,1944.0 L1714.8,1915.7 L1730.7,1927.9 Z" fill="#000" stroke="none"/>
</g>
<g fill="none" stroke-linecap="butt">
<rect x="359" y="213.5" width="102" height="181" fill="#fafafa" stroke="none"/>
<defs><clipPath id="hc"><path d="M833.6,482.3 L833.6,483.6 A231.3,231.3 0 0 1 997.2,551.4 A231.3,231.3 0 0 1 1324.5,551.4 A231.3,231.3 0 0 1 1651.8,551.4 A231.3,231.3 0 0 1 1977.4,549.7 L1977.4,482.3 Z"/></clipPath></defs>
<g clip-path="url(#hc)" stroke="#0d0d0d" stroke-width="4.6">
<path d="M875.6,473.3 L965.6,563.3"/>
<path d="M895.7,473.3 L985.7,563.3"/>
<path d="M915.8,473.3 L1005.8,563.3"/>
<path d="M936.0,473.3 L1026.0,563.3"/>
<path d="M956.1,473.3 L1046.1,563.3"/>
<path d="M976.2,473.3 L1066.2,563.3"/>
<path d="M996.3,473.3 L1086.3,563.3"/>
<path d="M1016.4,473.3 L1106.4,563.3"/>
<path d="M1036.6,473.3 L1126.6,563.3"/>
<path d="M1056.7,473.3 L1146.7,563.3"/>
<path d="M1076.8,473.3 L1166.8,563.3"/>
<path d="M1096.9,473.3 L1186.9,563.3"/>
<path d="M1117.0,473.3 L1207.0,563.3"/>
<path d="M1137.2,473.3 L1227.2,563.3"/>
<path d="M1157.3,473.3 L1247.3,563.3"/>
<path d="M1177.4,473.3 L1267.4,563.3"/>
<path d="M1197.5,473.3 L1287.5,563.3"/>
<path d="M1217.6,473.3 L1307.6,563.3"/>
<path d="M1237.8,473.3 L1327.8,563.3"/>
<path d="M1257.9,473.3 L1347.9,563.3"/>
<path d="M1278.0,473.3 L1368.0,563.3"/>
<path d="M1298.1,473.3 L1388.1,563.3"/>
<path d="M1318.2,473.3 L1408.2,563.3"/>
<path d="M1338.4,473.3 L1428.4,563.3"/>
<path d="M1358.5,473.3 L1448.5,563.3"/>
<path d="M1378.6,473.3 L1468.6,563.3"/>
<path d="M1398.7,473.3 L1488.7,563.3"/>
<path d="M1418.8,473.3 L1508.8,563.3"/>
<path d="M1439.0,473.3 L1529.0,563.3"/>
<path d="M1459.1,473.3 L1549.1,563.3"/>
<path d="M1479.2,473.3 L1569.2,563.3"/>
<path d="M1499.3,473.3 L1589.3,563.3"/>
<path d="M1519.4,473.3 L1609.4,563.3"/>
<path d="M1539.6,473.3 L1629.6,563.3"/>
<path d="M1559.7,473.3 L1649.7,563.3"/>
<path d="M1579.8,473.3 L1669.8,563.3"/>
<path d="M1599.9,473.3 L1689.9,563.3"/>
<path d="M1620.0,473.3 L1710.0,563.3"/>
<path d="M1640.2,473.3 L1730.2,563.3"/>
<path d="M1660.3,473.3 L1750.3,563.3"/>
<path d="M1680.4,473.3 L1770.4,563.3"/>
<path d="M1700.5,473.3 L1790.5,563.3"/>
<path d="M1720.6,473.3 L1810.6,563.3"/>
<path d="M1740.8,473.3 L1830.8,563.3"/>
<path d="M1760.9,473.3 L1850.9,563.3"/>
<path d="M1781.0,473.3 L1871.0,563.3"/>
<path d="M1801.1,473.3 L1891.1,563.3"/>
<path d="M1821.2,473.3 L1911.2,563.3"/>
<path d="M1841.4,473.3 L1931.4,563.3"/>
<path d="M1861.5,473.3 L1951.5,563.3"/>
<path d="M1881.6,473.3 L1971.6,563.3"/>
<path d="M1901.7,473.3 L1991.7,563.3"/>
<path d="M1921.8,473.3 L2011.8,563.3"/>
<path d="M1942.0,473.3 L2032.0,563.3"/>
<path d="M1962.1,473.3 L2052.1,563.3"/>
</g>
<line x1="89.0" y1="52.0" x2="2062.0" y2="52.0" stroke="#202020" stroke-width="5.6" stroke-dasharray="104 12.5 21 12.5" stroke-dashoffset="40.4"/>
<path d="M184,52 L198.8,379 L189.4,568 L652,568" stroke="#0d0d0d" stroke-width="5.0" stroke-linejoin="round"/>
<line x1="590.8" y1="52.0" x2="670.5" y2="549.5" stroke="#0d0d0d" stroke-width="2.2" stroke-dasharray="119.5 14.6 19.5 14.6 19.5 14.6 100.8 14.6 19.5 14.6 19.5 14.6 200"/>
<line x1="918.4" y1="52.0" x2="996.2" y2="551.4" stroke="#0d0d0d" stroke-width="4.2" />
<line x1="1244.7" y1="52.0" x2="1323.5" y2="551.4" stroke="#0d0d0d" stroke-width="4.2" />
<line x1="1571.0" y1="52.0" x2="1650.8" y2="551.4" stroke="#0d0d0d" stroke-width="4.2" />
<line x1="1897.3" y1="52.0" x2="1976.9" y2="551.4" stroke="#0d0d0d" stroke-width="4.2" />
<line x1="1977.4" y1="50.0" x2="1977.4" y2="552.4" stroke="#0d0d0d" stroke-width="4.8" />
<line x1="398.5" y1="483.3" x2="1977.4" y2="483.3" stroke="#0d0d0d" stroke-width="4.8" />
<line x1="402.5" y1="551.6" x2="997.2" y2="551.6" stroke="#0d0d0d" stroke-width="4.8" />
<circle cx="1160.9" cy="714.9" r="231.3" stroke="#0d0d0d" stroke-width="2.1" stroke-dasharray="112.9 16.4 22.6 16.4 22.6 16.4" stroke-dashoffset="56.45"/>
<circle cx="833.6" cy="714.9" r="231.3" stroke="#0d0d0d" stroke-width="4.0"/>
<path d="M997.2,551.4 A231.3,231.3 0 0 1 1324.5,551.4 A231.3,231.3 0 0 1 1651.8,551.4 A231.3,231.3 0 0 1 1977.4,549.7 " stroke="#0d0d0d" stroke-width="4.0" stroke-linejoin="miter"/>
<line x1="833.6" y1="252.0" x2="833.6" y2="716.5" stroke="#0d0d0d" stroke-width="5.2" />
<line x1="1160.9" y1="252.0" x2="1160.9" y2="715.7" stroke="#0d0d0d" stroke-width="5.2" />
<line x1="813.6" y1="251.7" x2="1180.9" y2="251.7" stroke="#3d3d3d" stroke-width="5.8" />
<path d="M749.5,242 L749.5,262 L833.6,252 Z" fill="#000" stroke="none"/>
<path d="M1244.6,242 L1244.6,262 L1160.9,252 Z" fill="#000" stroke="none"/>
<line x1="1142.0" y1="715.7" x2="1180.0" y2="715.7" stroke="#0d0d0d" stroke-width="4.6" />
<line x1="1160.9" y1="715.7" x2="1296.0" y2="530.0" stroke="#0d0d0d" stroke-width="4.6" />
<path d="M1296.0,530.0 L1257.4,600.9 L1240.4,588.5 Z" fill="#000" stroke="none"/>
<line x1="469.0" y1="226.0" x2="469.0" y2="648.0" stroke="#0d0d0d" stroke-width="4.6" />
<path d="M458.5,398.5 L479.5,398.5 L469,483.2 Z" fill="#000" stroke="none"/>
<path d="M458.5,634.6 L479.5,634.6 L469,551.5 Z" fill="#000" stroke="none"/>
</g>
</g>
<g style="filter:blur(1px)">
<text font-family="'Liberation Serif', serif" fill="#ff00ff"><tspan x="668.37" y="1352.63" font-size="76.07" font-style="italic" textLength="43.36" lengthAdjust="spacingAndGlyphs">f </tspan><tspan x="708.64" y="1352.47" font-size="75.44" textLength="309.46" lengthAdjust="spacingAndGlyphs">=0.45 mm</tspan></text>
<text font-family="'Liberation Serif', serif" fill="#0000ff"><tspan x="528.91" y="1742.26" font-size="75.41" font-style="italic" textLength="42.99" lengthAdjust="spacingAndGlyphs">f </tspan><tspan x="570.06" y="1743.14" font-size="77.35" textLength="271.04" lengthAdjust="spacingAndGlyphs">=0.3 mm</tspan></text>
<text font-family="'Liberation Serif', serif" fill="#ff0000"><tspan x="1220.99" y="1821.79" font-size="73.88" font-style="italic" textLength="42.12" lengthAdjust="spacingAndGlyphs">f </tspan><tspan x="1263.48" y="1822.44" font-size="77.65" textLength="306.61" lengthAdjust="spacingAndGlyphs">=0.15 mm</tspan></text>
<text font-family="'Liberation Serif', serif" fill="#111"><tspan x="1660.51" y="1859.46" font-size="75.41" font-style="italic" textLength="42.99" lengthAdjust="spacingAndGlyphs">f </tspan><tspan x="1704.29" y="1858.87" font-size="75.15" textLength="268.49" lengthAdjust="spacingAndGlyphs">=0.1 mm</tspan></text>
<text font-family="'Liberation Serif', serif" fill="#111"><tspan x="1396.84" y="1225.20" font-size="67.50" font-style="italic" textLength="113.05" lengthAdjust="spacingAndGlyphs">Rz=</tspan><tspan x="1499.80" y="1225.20" font-size="67.50" font-style="italic" textLength="43.14" lengthAdjust="spacingAndGlyphs">r </tspan><tspan x="1546.14" y="1225.20" font-size="67.50" textLength="39.35" lengthAdjust="spacingAndGlyphs">- </tspan><tspan x="1589.41" y="1225.20" font-size="67.50" textLength="59.52" lengthAdjust="spacingAndGlyphs">√(</tspan><tspan x="1643.80" y="1225.20" font-size="67.50" font-style="italic" textLength="26.27" lengthAdjust="spacingAndGlyphs">r</tspan><tspan x="1681.07" y="1198.20" font-size="45.76" textLength="25.87" lengthAdjust="spacingAndGlyphs">2</tspan><tspan x="1706.64" y="1225.20" font-size="67.50" textLength="39.35" lengthAdjust="spacingAndGlyphs">- </tspan><tspan x="1732.84" y="1225.44" font-size="75.52" font-style="italic" textLength="22.66" lengthAdjust="spacingAndGlyphs">f</tspan><tspan x="1779.07" y="1198.20" font-size="45.76" textLength="25.87" lengthAdjust="spacingAndGlyphs">2</tspan><tspan x="1805.50" y="1225.20" font-size="67.50" textLength="72.07" lengthAdjust="spacingAndGlyphs">/4)</tspan></text>
<text font-family="'Liberation Serif', serif" fill="#111"><tspan x="1390.56" y="1304.96" font-size="75.41" font-style="italic" textLength="42.99" lengthAdjust="spacingAndGlyphs">f </tspan><tspan x="1433.64" y="1304.80" font-size="78.00" textLength="45.85" lengthAdjust="spacingAndGlyphs">=</tspan><tspan x="1483.85" y="1304.80" font-size="78.00" font-style="italic" textLength="39.47" lengthAdjust="spacingAndGlyphs">V</tspan><tspan x="1523.31" y="1324.20" font-size="45.15" textLength="27.63" lengthAdjust="spacingAndGlyphs">2</tspan><tspan x="1551.30" y="1304.80" font-size="78.00" textLength="16.67" lengthAdjust="spacingAndGlyphs">/</tspan><tspan x="1576.14" y="1304.80" font-size="78.00" font-style="italic" textLength="39.56" lengthAdjust="spacingAndGlyphs">V</tspan><tspan x="1621.41" y="1323.60" font-size="44.58" textLength="17.14" lengthAdjust="spacingAndGlyphs">1</tspan></text>
<text transform="translate(61.44,2147.61) scale(1.05860,1.04222)" font-family="'Liberation Serif', serif" font-size="100" fill="#111">(b)</text>
<text transform="translate(365.47,366.50) scale(0.84360,0.80769)" font-family="'Liberation Serif', serif" font-size="100" fill="#111">Rz</text>
<text transform="translate(984.09,224.79) scale(0.90789,0.81967)" font-family="'Liberation Serif', serif" font-style="italic" font-size="100" fill="#111">f</text>
<text transform="translate(1215.88,694.88) scale(0.60571,0.75699)" font-family="'Liberation Serif', serif" font-style="italic" font-size="100" fill="#111">r</text>
<text transform="translate(49.92,948.87) scale(1.06176,1.03000)" font-family="'Liberation Serif', serif" font-size="100" fill="#111">(a)</text>
<g font-family="'Liberation Sans', sans-serif" fill="#161616">
<text transform="translate(214.74,1969.25) scale(0.6160)" font-size="100">0</text>
<text transform="translate(214.74,1782.71) scale(0.6160)" x="4.9" clip-path="url(#one1)" font-size="100">1</text>
<text transform="translate(214.74,1596.17) scale(0.6160)" font-size="100">2</text>
<text transform="translate(214.74,1409.63) scale(0.6160)" font-size="100">3</text>
<text transform="translate(214.74,1223.09) scale(0.6160)" font-size="100">4</text>
<text transform="translate(214.74,1036.55) scale(0.6160)" font-size="100">5</text>
<text transform="translate(278.57,2047.45) scale(0.6160)" font-size="100">0</text>
<text transform="translate(617.02,2047.45) scale(0.6160)" x="4.9 55.6" clip-path="url(#one10)" font-size="100">10</text>
<text transform="translate(972.60,2047.45) scale(0.6160)" font-size="100">20</text>
<text transform="translate(1328.18,2047.45) scale(0.6160)" font-size="100">30</text>
<text transform="translate(1683.76,2047.45) scale(0.6160)" font-size="100">40</text>
<text transform="translate(2039.34,2047.45) scale(0.6160)" font-size="100">50</text>
</g>
<text transform="translate(934.11,2159.73) scale(0.75440,0.72727)" font-family="'Liberation Sans', sans-serif" font-size="100" fill="#0a0a0a" stroke="#0a0a0a" stroke-width="0.8">Tool radius, <tspan font-style="italic">r</tspan> (mm)</text>
<text transform="translate(128.73,1574.90) rotate(-90) scale(0.73431,0.72727)" font-family="'Liberation Sans', sans-serif" font-size="100" fill="#0a0a0a" stroke="#0a0a0a" stroke-width="0.8"><tspan font-style="italic">Rz</tspan> (µm)</text>
</g>
</svg>
</body></html>
